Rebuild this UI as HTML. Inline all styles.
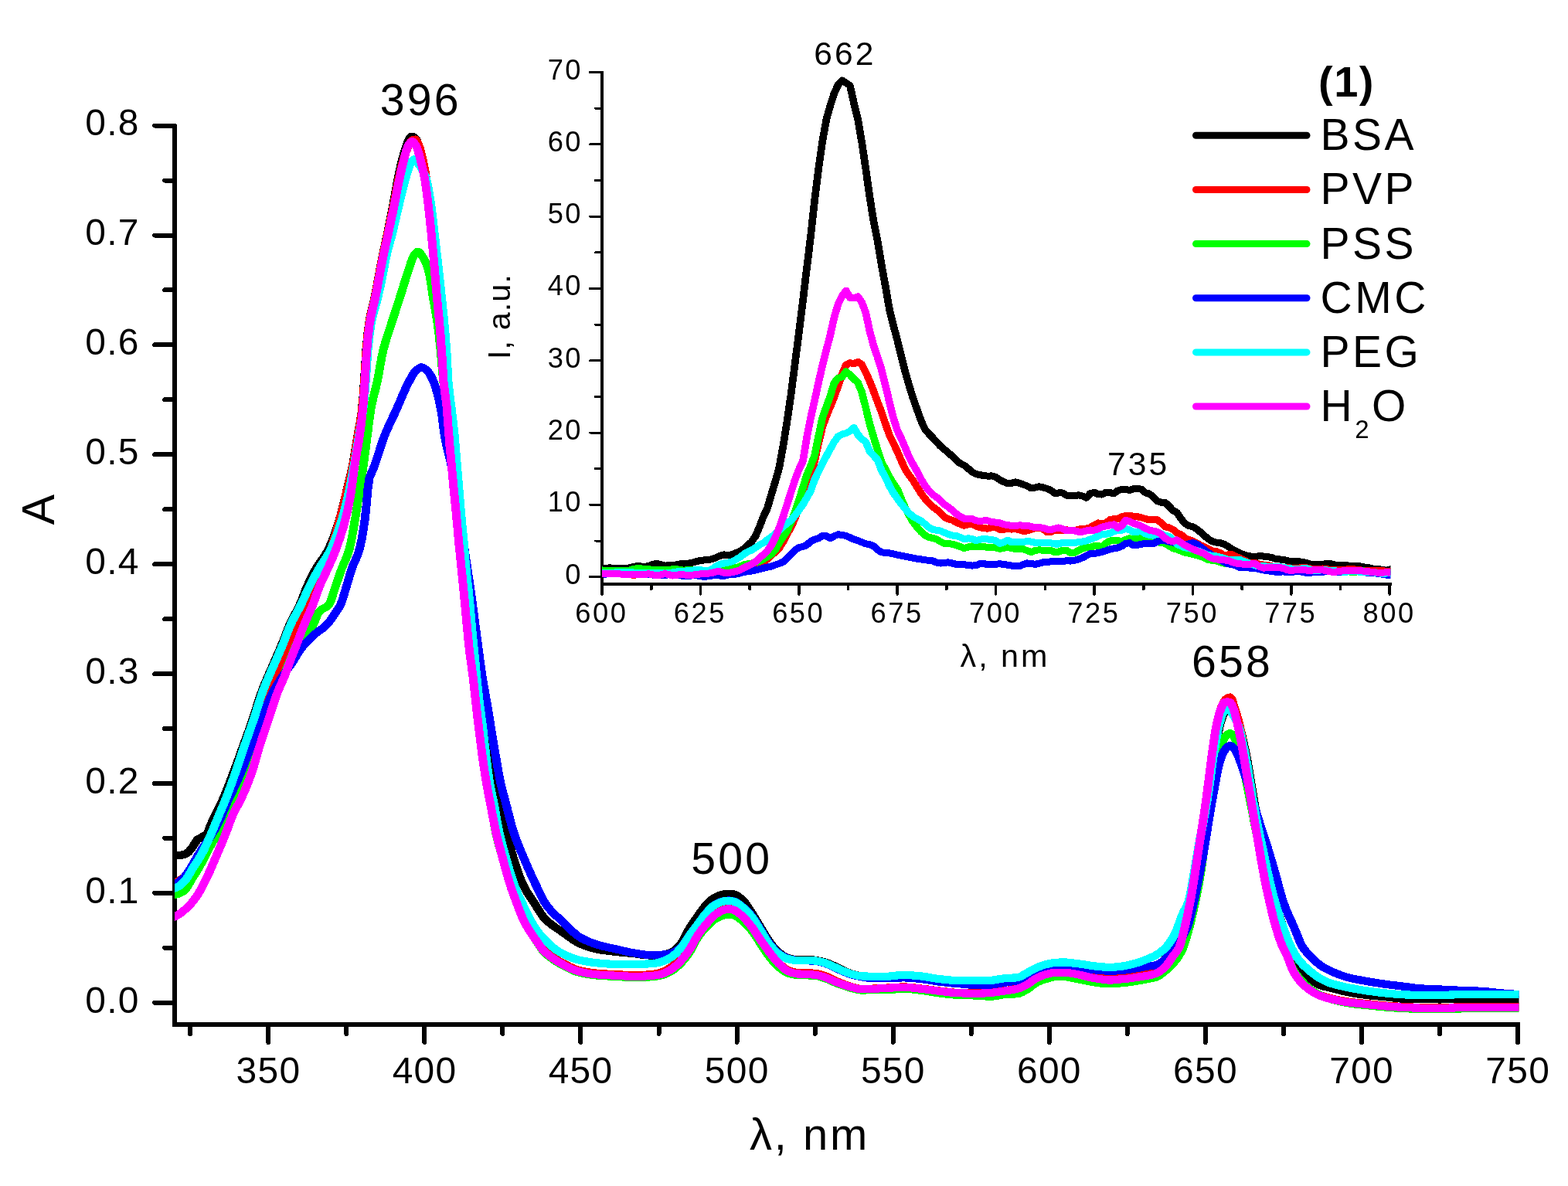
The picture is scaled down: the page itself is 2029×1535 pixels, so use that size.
<!DOCTYPE html>
<html lang="en"><head><meta charset="utf-8"><title>Absorption and fluorescence spectra</title>
<style>html,body{margin:0;padding:0;background:#fff}body{width:2029px;height:1535px;overflow:hidden}svg{display:block}text{font-family:'Liberation Sans', sans-serif;fill:#000}</style></head><body>
<svg width="2029" height="1535" viewBox="0 0 2029 1535" role="img" aria-label="Absorption spectra with fluorescence inset">
<rect x="0" y="0" width="2029" height="1535" fill="#ffffff"/>
<g id="main-axes" stroke="#000" fill="none" shape-rendering="crispEdges">
<path d="M226 160.5 V1329" stroke-width="6"/>
<path d="M223 1326 H1967" stroke-width="6"/>
<path d="M200.2 1297.8 H226 M200.2 1155.9 H226 M200.2 1014.0 H226 M200.2 872.1 H226 M200.2 730.2 H226 M200.2 588.3 H226 M200.2 446.4 H226 M200.2 304.5 H226 M200.2 162.6 H226 M213.2 1226.8 H226 M213.2 1084.9 H226 M213.2 943.0 H226 M213.2 801.1 H226 M213.2 659.2 H226 M213.2 517.3 H226 M213.2 375.4 H226 M213.2 233.5 H226" stroke-width="6" stroke-linecap="round"/>
<path d="M347.3 1326 V1349 M549.4 1326 V1349 M751.4 1326 V1349 M953.5 1326 V1349 M1155.6 1326 V1349 M1357.7 1326 V1349 M1559.8 1326 V1349 M1761.9 1326 V1349 M1964.0 1326 V1349 M246.2 1326 V1338 M448.3 1326 V1338 M650.4 1326 V1338 M852.5 1326 V1338 M1054.6 1326 V1338 M1256.7 1326 V1338 M1458.8 1326 V1338 M1660.9 1326 V1338 M1863.0 1326 V1338" stroke-width="6" stroke-linecap="round"/>
</g>
<g id="main-ticklabels" font-size="47.9" letter-spacing="1.3">
<text x="180.8" y="1310.5" text-anchor="end">0.0</text>
<text x="180.8" y="1168.6" text-anchor="end">0.1</text>
<text x="180.8" y="1026.7" text-anchor="end">0.2</text>
<text x="180.8" y="884.8" text-anchor="end">0.3</text>
<text x="180.8" y="742.9" text-anchor="end">0.4</text>
<text x="180.8" y="601.0" text-anchor="end">0.5</text>
<text x="180.8" y="459.1" text-anchor="end">0.6</text>
<text x="180.8" y="317.2" text-anchor="end">0.7</text>
<text x="180.8" y="175.3" text-anchor="end">0.8</text>
<text x="347.5" y="1402" text-anchor="middle">350</text>
<text x="549.6" y="1402" text-anchor="middle">400</text>
<text x="751.6" y="1402" text-anchor="middle">450</text>
<text x="953.7" y="1402" text-anchor="middle">500</text>
<text x="1155.8" y="1402" text-anchor="middle">550</text>
<text x="1357.9" y="1402" text-anchor="middle">600</text>
<text x="1560.0" y="1402" text-anchor="middle">650</text>
<text x="1762.1" y="1402" text-anchor="middle">700</text>
<text x="1964.2" y="1402" text-anchor="middle">750</text>
</g>
<text id="main-xtitle" x="1047.5" y="1488" font-size="58" letter-spacing="2.6" text-anchor="middle">λ, nm</text>
<text id="main-ytitle" transform="translate(70.3 659.5) rotate(-90)" font-size="59" text-anchor="middle">A</text>
<clipPath id="mclip"><rect x="226" y="100" width="1739.5" height="1260"/></clipPath>
<g id="main-curves" clip-path="url(#mclip)"><g fill="none" stroke-width="11" stroke-linejoin="round" stroke-linecap="butt" transform="scale(1 0.930)" shape-rendering="crispEdges">
<path stroke="#000000" d="M216.0 1190.9 L226.0 1190.9 L228.0 1190.8 L230.0 1190.7 L232.0 1190.4 L234.0 1190.1 L236.0 1189.7 L238.0 1189.3 L240.0 1188.4 L242.0 1187.1 L244.0 1185.6 L246.0 1183.3 L248.0 1180.5 L250.0 1177.6 L252.0 1174.0 L254.0 1170.5 L256.0 1168.2 L258.0 1166.8 L260.0 1165.7 L262.0 1164.5 L264.0 1163.4 L266.0 1162.1 L268.0 1160.3 L270.0 1156.0 L272.0 1149.8 L274.0 1144.6 L276.0 1139.8 L278.0 1135.2 L280.0 1130.8 L282.0 1126.7 L284.0 1122.5 L286.0 1118.2 L288.0 1113.6 L290.0 1108.6 L292.0 1103.4 L294.0 1098.0 L296.0 1092.5 L298.0 1086.9 L300.0 1081.2 L302.0 1075.6 L304.0 1069.9 L306.0 1064.1 L308.0 1058.3 L310.0 1052.3 L312.0 1046.4 L314.0 1040.4 L316.0 1034.5 L318.0 1028.5 L320.0 1022.5 L322.0 1016.5 L324.0 1010.4 L326.0 1004.2 L328.0 997.9 L330.0 991.2 L332.0 984.4 L334.0 977.5 L336.0 970.9 L338.0 964.7 L340.0 959.0 L342.0 953.6 L344.0 948.5 L346.0 943.4 L348.0 938.4 L350.0 933.5 L352.0 928.6 L354.0 923.7 L356.0 918.8 L358.0 913.8 L360.0 908.8 L362.0 903.8 L364.0 898.8 L366.0 893.6 L368.0 888.3 L370.0 882.7 L372.0 877.1 L374.0 871.7 L376.0 866.7 L378.0 862.3 L380.0 858.2 L382.0 854.3 L384.0 850.3 L386.0 846.2 L388.0 841.7 L390.0 836.6 L392.0 831.0 L394.0 825.3 L396.0 819.8 L398.0 814.8 L400.0 810.1 L402.0 805.6 L404.0 801.3 L406.0 797.1 L408.0 793.2 L410.0 789.4 L412.0 786.0 L414.0 782.9 L416.0 779.9 L418.0 776.9 L420.0 773.8 L422.0 770.4 L424.0 766.6 L426.0 762.3 L428.0 757.5 L430.0 752.3 L432.0 746.7 L434.0 740.7 L436.0 734.3 L438.0 727.6 L440.0 720.7 L442.0 712.9 L444.0 704.3 L446.0 695.2 L448.0 686.2 L450.0 677.4 L452.0 668.8 L454.0 659.8 L456.0 650.0 L458.0 638.6 L460.0 625.6 L462.0 612.0 L464.0 599.7 L466.0 588.3 L468.0 574.2 L470.0 551.9 L472.0 520.2 L474.0 485.5 L476.0 462.7 L478.0 447.3 L480.0 436.5 L482.0 427.5 L484.0 418.6 L486.0 408.0 L488.0 396.8 L490.0 385.4 L492.0 374.1 L494.0 362.8 L496.0 352.3 L498.0 342.3 L500.0 332.3 L502.0 322.0 L504.0 311.5 L506.0 300.8 L508.0 289.9 L510.0 278.4 L512.0 266.3 L514.0 254.4 L516.0 243.7 L518.0 233.6 L520.0 224.6 L522.0 216.7 L524.0 209.6 L526.0 203.3 L528.0 197.0 L530.0 192.5 L532.0 190.2 L534.0 190.0 L536.0 191.0 L538.0 193.1 L540.0 197.3 L542.0 204.2 L544.0 216.8 L546.0 228.0 L548.0 237.5 L550.0 248.4 L552.0 262.7 L554.0 279.5 L556.0 297.8 L558.0 318.2 L560.0 340.3 L562.0 364.0 L564.0 389.5 L566.0 414.5 L568.0 435.9 L570.0 459.0 L572.0 487.7 L574.0 524.7 L576.0 545.0 L578.0 560.2 L580.0 585.3 L582.0 614.5 L584.0 638.1 L586.0 661.5 L588.0 684.4 L590.0 706.5 L592.0 727.6 L594.0 747.5 L596.0 769.1 L598.0 790.9 L600.0 810.3 L602.0 829.0 L604.0 848.4 L606.0 867.2 L608.0 884.7 L610.0 901.3 L612.0 916.8 L614.0 931.5 L616.0 945.9 L618.0 960.0 L620.0 973.7 L622.0 987.0 L624.0 1000.0 L626.0 1011.8 L628.0 1022.0 L630.0 1031.1 L632.0 1040.2 L634.0 1050.0 L636.0 1061.4 L638.0 1073.7 L640.0 1085.4 L642.0 1095.5 L644.0 1104.8 L646.0 1113.8 L648.0 1122.8 L650.0 1131.9 L652.0 1140.9 L654.0 1149.8 L656.0 1158.7 L658.0 1167.7 L660.0 1176.8 L662.0 1185.4 L664.0 1193.2 L666.0 1200.1 L668.0 1206.7 L670.0 1212.9 L672.0 1218.8 L674.0 1224.2 L676.0 1229.2 L678.0 1233.7 L680.0 1237.7 L682.0 1241.5 L684.0 1244.9 L686.0 1248.2 L688.0 1251.4 L690.0 1254.6 L692.0 1257.8 L694.0 1261.2 L696.0 1264.7 L698.0 1268.2 L700.0 1271.5 L702.0 1274.6 L704.0 1277.3 L706.0 1279.5 L708.0 1281.6 L710.0 1283.5 L712.0 1285.3 L714.0 1286.9 L716.0 1288.5 L718.0 1290.1 L720.0 1291.6 L722.0 1293.0 L724.0 1294.5 L726.0 1295.9 L728.0 1297.4 L730.0 1298.9 L732.0 1300.5 L734.0 1302.1 L736.0 1303.7 L738.0 1305.2 L740.0 1306.7 L742.0 1308.2 L744.0 1309.5 L746.0 1310.8 L748.0 1312.0 L750.0 1313.1 L752.0 1314.0 L754.0 1314.9 L756.0 1315.7 L758.0 1316.5 L760.0 1317.3 L762.0 1318.0 L764.0 1318.7 L766.0 1319.3 L768.0 1319.9 L770.0 1320.5 L772.0 1321.0 L774.0 1321.4 L776.0 1321.8 L778.0 1322.1 L780.0 1322.4 L782.0 1322.7 L784.0 1323.0 L786.0 1323.3 L788.0 1323.5 L790.0 1323.8 L792.0 1324.0 L794.0 1324.2 L796.0 1324.5 L798.0 1324.7 L800.0 1324.9 L802.0 1325.2 L804.0 1325.4 L806.0 1325.6 L808.0 1325.8 L810.0 1326.0 L812.0 1326.2 L814.0 1326.4 L816.0 1326.6 L818.0 1326.8 L820.0 1327.1 L822.0 1327.3 L824.0 1327.6 L826.0 1328.0 L828.0 1328.3 L830.0 1328.7 L832.0 1329.0 L834.0 1329.2 L836.0 1329.3 L838.0 1329.4 L840.0 1329.5 L842.0 1329.6 L844.0 1329.7 L846.0 1329.7 L848.0 1329.6 L850.0 1329.5 L852.0 1329.4 L854.0 1329.2 L856.0 1329.0 L858.0 1328.7 L860.0 1328.4 L862.0 1327.9 L864.0 1327.3 L866.0 1326.5 L868.0 1325.7 L870.0 1324.7 L872.0 1323.4 L874.0 1321.7 L876.0 1319.7 L878.0 1317.4 L880.0 1315.0 L882.0 1312.3 L884.0 1308.9 L886.0 1304.9 L888.0 1300.6 L890.0 1296.3 L892.0 1292.3 L894.0 1288.8 L896.0 1285.6 L898.0 1282.5 L900.0 1279.5 L902.0 1276.5 L904.0 1273.4 L906.0 1270.3 L908.0 1267.3 L910.0 1264.4 L912.0 1261.7 L914.0 1259.3 L916.0 1257.1 L918.0 1255.0 L920.0 1253.0 L922.0 1251.2 L924.0 1249.7 L926.0 1248.6 L928.0 1247.5 L930.0 1246.6 L932.0 1245.8 L934.0 1245.1 L936.0 1244.6 L938.0 1244.3 L940.0 1244.1 L942.0 1243.9 L944.0 1243.8 L946.0 1243.9 L948.0 1244.2 L950.0 1244.6 L952.0 1245.5 L954.0 1246.7 L956.0 1248.1 L958.0 1249.8 L960.0 1251.6 L962.0 1253.6 L964.0 1256.1 L966.0 1259.1 L968.0 1262.3 L970.0 1265.7 L972.0 1269.1 L974.0 1272.4 L976.0 1275.9 L978.0 1279.5 L980.0 1283.1 L982.0 1286.8 L984.0 1290.3 L986.0 1293.9 L988.0 1297.5 L990.0 1301.1 L992.0 1304.7 L994.0 1308.0 L996.0 1311.1 L998.0 1313.9 L1000.0 1316.6 L1002.0 1319.2 L1004.0 1321.5 L1006.0 1323.7 L1008.0 1325.6 L1010.0 1327.2 L1012.0 1328.8 L1014.0 1330.3 L1016.0 1331.5 L1018.0 1332.6 L1020.0 1333.4 L1022.0 1334.0 L1024.0 1334.6 L1026.0 1335.1 L1028.0 1335.6 L1030.0 1335.8 L1032.0 1335.9 L1034.0 1335.9 L1036.0 1335.9 L1038.0 1335.9 L1040.0 1335.9 L1042.0 1335.9 L1044.0 1335.9 L1046.0 1335.9 L1048.0 1335.9 L1050.0 1335.9 L1052.0 1336.0 L1054.0 1336.2 L1056.0 1336.5 L1058.0 1336.9 L1060.0 1337.3 L1062.0 1337.8 L1064.0 1338.3 L1066.0 1338.8 L1068.0 1339.3 L1070.0 1340.0 L1072.0 1340.7 L1074.0 1341.6 L1076.0 1342.6 L1078.0 1343.6 L1080.0 1344.5 L1082.0 1345.6 L1084.0 1346.7 L1086.0 1347.8 L1088.0 1348.9 L1090.0 1350.0 L1092.0 1351.0 L1094.0 1351.9 L1096.0 1352.9 L1098.0 1353.8 L1100.0 1354.6 L1102.0 1355.4 L1104.0 1356.1 L1106.0 1356.6 L1108.0 1357.2 L1110.0 1357.7 L1112.0 1358.2 L1114.0 1358.7 L1116.0 1359.1 L1118.0 1359.7 L1120.0 1360.1 L1122.0 1360.3 L1124.0 1360.4 L1126.0 1360.4 L1128.0 1360.5 L1130.0 1360.5 L1132.0 1360.6 L1134.0 1360.6 L1136.0 1360.6 L1138.0 1360.6 L1140.0 1360.6 L1142.0 1360.6 L1144.0 1360.6 L1146.0 1360.6 L1148.0 1360.6 L1150.0 1360.4 L1152.0 1360.2 L1154.0 1360.0 L1156.0 1359.7 L1158.0 1359.5 L1160.0 1359.2 L1162.0 1359.0 L1164.0 1358.8 L1166.0 1358.6 L1168.0 1358.5 L1170.0 1358.5 L1172.0 1358.5 L1174.0 1358.6 L1176.0 1358.7 L1178.0 1358.9 L1180.0 1359.0 L1182.0 1359.2 L1184.0 1359.4 L1186.0 1359.6 L1188.0 1359.8 L1190.0 1360.0 L1192.0 1360.2 L1194.0 1360.5 L1196.0 1360.7 L1198.0 1361.0 L1200.0 1361.4 L1202.0 1361.7 L1204.0 1362.1 L1206.0 1362.5 L1208.0 1362.9 L1210.0 1363.2 L1212.0 1363.6 L1214.0 1363.9 L1216.0 1364.1 L1218.0 1364.4 L1220.0 1364.6 L1222.0 1364.8 L1224.0 1365.0 L1226.0 1365.2 L1228.0 1365.4 L1230.0 1365.6 L1232.0 1365.8 L1234.0 1365.9 L1236.0 1366.0 L1238.0 1366.1 L1240.0 1366.1 L1242.0 1366.1 L1244.0 1366.2 L1246.0 1366.2 L1248.0 1366.2 L1250.0 1366.2 L1252.0 1366.2 L1254.0 1366.2 L1256.0 1366.2 L1258.0 1366.2 L1260.0 1366.2 L1262.0 1366.2 L1264.0 1366.2 L1266.0 1366.2 L1268.0 1366.2 L1270.0 1366.2 L1272.0 1366.2 L1274.0 1366.1 L1276.0 1366.1 L1278.0 1366.0 L1280.0 1366.0 L1282.0 1365.9 L1284.0 1365.7 L1286.0 1365.5 L1288.0 1365.2 L1290.0 1364.8 L1292.0 1364.4 L1294.0 1364.0 L1296.0 1363.7 L1298.0 1363.4 L1300.0 1363.2 L1302.0 1363.0 L1304.0 1362.9 L1306.0 1362.8 L1308.0 1362.7 L1310.0 1362.6 L1312.0 1362.4 L1314.0 1362.3 L1316.0 1362.1 L1318.0 1361.7 L1320.0 1361.0 L1322.0 1359.9 L1324.0 1358.7 L1326.0 1357.3 L1328.0 1356.1 L1330.0 1354.9 L1332.0 1353.7 L1334.0 1352.5 L1336.0 1351.3 L1338.0 1350.1 L1340.0 1349.0 L1342.0 1348.1 L1344.0 1347.2 L1346.0 1346.3 L1348.0 1345.5 L1350.0 1344.8 L1352.0 1344.1 L1354.0 1343.6 L1356.0 1343.1 L1358.0 1342.6 L1360.0 1342.2 L1362.0 1341.8 L1364.0 1341.6 L1366.0 1341.4 L1368.0 1341.2 L1370.0 1341.0 L1372.0 1340.9 L1374.0 1340.8 L1376.0 1340.8 L1378.0 1340.8 L1380.0 1340.8 L1382.0 1341.0 L1384.0 1341.2 L1386.0 1341.5 L1388.0 1341.8 L1390.0 1342.4 L1392.0 1344.0 L1394.0 1346.6 L1396.0 1349.4 L1398.0 1352.1 L1400.0 1354.1 L1402.0 1355.1 L1404.0 1355.8 L1406.0 1356.4 L1408.0 1356.9 L1410.0 1357.3 L1412.0 1357.7 L1414.0 1358.1 L1416.0 1358.5 L1418.0 1358.8 L1420.0 1359.1 L1422.0 1359.4 L1424.0 1359.7 L1426.0 1360.0 L1428.0 1360.3 L1430.0 1360.6 L1432.0 1360.8 L1434.0 1361.0 L1436.0 1361.1 L1438.0 1361.0 L1440.0 1360.9 L1442.0 1360.8 L1444.0 1360.6 L1446.0 1360.3 L1448.0 1360.1 L1450.0 1360.0 L1452.0 1359.8 L1454.0 1359.6 L1456.0 1359.4 L1458.0 1359.2 L1460.0 1358.9 L1462.0 1358.7 L1464.0 1358.4 L1466.0 1358.0 L1468.0 1357.7 L1470.0 1357.3 L1472.0 1357.0 L1474.0 1356.7 L1476.0 1356.4 L1478.0 1356.1 L1480.0 1355.7 L1482.0 1355.4 L1484.0 1355.0 L1486.0 1354.6 L1488.0 1354.2 L1490.0 1353.8 L1492.0 1353.2 L1494.0 1352.6 L1496.0 1351.7 L1498.0 1350.2 L1500.0 1347.7 L1502.0 1344.7 L1504.0 1341.2 L1506.0 1337.4 L1508.0 1333.7 L1510.0 1330.1 L1512.0 1326.5 L1514.0 1322.7 L1516.0 1318.8 L1518.0 1314.9 L1520.0 1311.0 L1522.0 1307.5 L1524.0 1304.1 L1526.0 1300.4 L1528.0 1296.1 L1530.0 1290.9 L1532.0 1284.1 L1534.0 1275.7 L1536.0 1266.4 L1538.0 1256.7 L1540.0 1246.8 L1542.0 1236.0 L1544.0 1224.7 L1546.0 1213.3 L1548.0 1201.6 L1550.0 1189.7 L1552.0 1178.0 L1554.0 1166.8 L1556.0 1155.8 L1558.0 1144.6 L1560.0 1132.8 L1562.0 1120.6 L1564.0 1107.8 L1566.0 1093.6 L1568.0 1076.9 L1570.0 1060.8 L1572.0 1046.8 L1574.0 1034.0 L1576.0 1021.6 L1578.0 1011.0 L1580.0 1003.3 L1582.0 997.0 L1584.0 992.5 L1586.0 989.2 L1588.0 986.7 L1590.0 986.1 L1592.0 988.3 L1594.0 991.7 L1596.0 994.8 L1598.0 998.0 L1600.0 1001.7 L1602.0 1006.0 L1604.0 1011.2 L1606.0 1018.8 L1608.0 1028.1 L1610.0 1037.7 L1612.0 1047.9 L1614.0 1059.0 L1616.0 1071.2 L1618.0 1084.3 L1620.0 1097.5 L1622.0 1110.5 L1624.0 1123.4 L1626.0 1135.8 L1628.0 1147.1 L1630.0 1157.6 L1632.0 1167.8 L1634.0 1178.0 L1636.0 1188.3 L1638.0 1198.7 L1640.0 1208.8 L1642.0 1218.5 L1644.0 1228.0 L1646.0 1237.3 L1648.0 1246.1 L1650.0 1254.3 L1652.0 1262.0 L1654.0 1269.2 L1656.0 1276.2 L1658.0 1282.8 L1660.0 1289.2 L1662.0 1295.5 L1664.0 1301.5 L1666.0 1307.3 L1668.0 1312.8 L1670.0 1317.8 L1672.0 1322.3 L1674.0 1326.4 L1676.0 1330.5 L1678.0 1335.0 L1680.0 1339.6 L1682.0 1344.0 L1684.0 1348.0 L1686.0 1351.3 L1688.0 1354.0 L1690.0 1356.6 L1692.0 1358.8 L1694.0 1360.9 L1696.0 1362.8 L1698.0 1364.4 L1700.0 1366.0 L1702.0 1367.5 L1704.0 1368.9 L1706.0 1370.1 L1708.0 1371.1 L1710.0 1371.8 L1712.0 1372.4 L1714.0 1373.0 L1716.0 1373.4 L1718.0 1373.9 L1720.0 1374.4 L1722.0 1374.9 L1724.0 1375.4 L1726.0 1376.0 L1728.0 1376.6 L1730.0 1377.2 L1732.0 1377.7 L1734.0 1378.3 L1736.0 1378.9 L1738.0 1379.4 L1740.0 1379.9 L1742.0 1380.4 L1744.0 1380.8 L1746.0 1381.2 L1748.0 1381.6 L1750.0 1382.0 L1752.0 1382.4 L1754.0 1382.7 L1756.0 1383.1 L1758.0 1383.4 L1760.0 1383.7 L1762.0 1384.0 L1764.0 1384.3 L1766.0 1384.5 L1768.0 1384.8 L1770.0 1385.1 L1772.0 1385.3 L1774.0 1385.5 L1776.0 1385.7 L1778.0 1385.9 L1780.0 1386.1 L1782.0 1386.3 L1784.0 1386.5 L1786.0 1386.7 L1788.0 1386.9 L1790.0 1387.1 L1792.0 1387.3 L1794.0 1387.5 L1796.0 1387.8 L1798.0 1388.0 L1800.0 1388.3 L1802.0 1388.6 L1804.0 1388.8 L1806.0 1389.1 L1808.0 1389.3 L1810.0 1389.5 L1812.0 1389.7 L1814.0 1389.8 L1816.0 1389.9 L1818.0 1390.0 L1820.0 1390.1 L1822.0 1390.1 L1824.0 1390.2 L1826.0 1390.3 L1828.0 1390.3 L1830.0 1390.4 L1832.0 1390.4 L1834.0 1390.5 L1836.0 1390.5 L1838.0 1390.5 L1840.0 1390.5 L1842.0 1390.6 L1844.0 1390.6 L1846.0 1390.6 L1848.0 1390.7 L1850.0 1390.7 L1852.0 1390.7 L1854.0 1390.7 L1856.0 1390.7 L1858.0 1390.7 L1860.0 1390.7 L1862.0 1390.8 L1864.0 1390.8 L1866.0 1390.7 L1868.0 1390.7 L1870.0 1390.7 L1872.0 1390.7 L1874.0 1390.7 L1876.0 1390.6 L1878.0 1390.6 L1880.0 1390.6 L1882.0 1390.6 L1884.0 1390.5 L1886.0 1390.5 L1888.0 1390.5 L1890.0 1390.6 L1892.0 1390.6 L1894.0 1390.6 L1896.0 1390.6 L1898.0 1390.7 L1900.0 1390.7 L1902.0 1390.8 L1904.0 1390.8 L1906.0 1390.9 L1908.0 1391.0 L1910.0 1391.0 L1912.0 1391.1 L1914.0 1391.1 L1916.0 1391.1 L1918.0 1391.2 L1920.0 1391.2 L1922.0 1391.2 L1924.0 1391.2 L1926.0 1391.2 L1928.0 1391.2 L1930.0 1391.3 L1932.0 1391.3 L1934.0 1391.3 L1936.0 1391.3 L1938.0 1391.3 L1940.0 1391.3 L1942.0 1391.3 L1944.0 1391.3 L1946.0 1391.4 L1948.0 1391.4 L1950.0 1391.4 L1952.0 1391.4 L1954.0 1391.4 L1956.0 1391.4 L1958.0 1391.4 L1960.0 1391.4 L1962.0 1391.4 L1964.0 1391.4 L1965.0 1391.4 L1975.0 1391.4"/>
<path stroke="#ff0000" d="M216.0 1231.9 L226.0 1228.5 L228.0 1227.7 L230.0 1226.7 L232.0 1225.5 L234.0 1224.1 L236.0 1222.6 L238.0 1221.0 L240.0 1219.1 L242.0 1216.9 L244.0 1214.7 L246.0 1212.8 L248.0 1210.9 L250.0 1208.8 L252.0 1206.2 L254.0 1203.2 L256.0 1199.9 L258.0 1196.3 L260.0 1192.4 L262.0 1188.5 L264.0 1184.5 L266.0 1180.1 L268.0 1175.4 L270.0 1170.6 L272.0 1165.7 L274.0 1160.8 L276.0 1155.9 L278.0 1150.8 L280.0 1145.7 L282.0 1140.5 L284.0 1135.3 L286.0 1130.1 L288.0 1125.1 L290.0 1120.2 L292.0 1114.9 L294.0 1109.5 L296.0 1103.9 L298.0 1098.1 L300.0 1092.3 L302.0 1086.3 L304.0 1080.3 L306.0 1074.3 L308.0 1068.0 L310.0 1061.6 L312.0 1055.1 L314.0 1048.6 L316.0 1042.3 L318.0 1036.2 L320.0 1030.2 L322.0 1024.3 L324.0 1018.5 L326.0 1012.7 L328.0 1006.9 L330.0 1001.1 L332.0 995.0 L334.0 988.6 L336.0 982.1 L338.0 975.9 L340.0 970.1 L342.0 965.1 L344.0 961.0 L346.0 957.6 L348.0 954.6 L350.0 951.9 L352.0 949.1 L354.0 946.1 L356.0 942.5 L358.0 938.4 L360.0 933.8 L362.0 929.0 L364.0 924.1 L366.0 919.3 L368.0 914.5 L370.0 909.8 L372.0 905.0 L374.0 900.2 L376.0 895.2 L378.0 889.9 L380.0 884.2 L382.0 878.4 L384.0 872.6 L386.0 867.2 L388.0 862.2 L390.0 857.5 L392.0 852.9 L394.0 848.4 L396.0 843.9 L398.0 839.5 L400.0 835.3 L402.0 831.2 L404.0 827.1 L406.0 822.9 L408.0 818.5 L410.0 813.9 L412.0 809.0 L414.0 804.0 L416.0 798.8 L418.0 793.5 L420.0 788.2 L422.0 782.8 L424.0 777.3 L426.0 771.5 L428.0 765.4 L430.0 758.8 L432.0 751.8 L434.0 744.5 L436.0 736.9 L438.0 729.2 L440.0 721.3 L442.0 713.1 L444.0 704.6 L446.0 695.9 L448.0 687.1 L450.0 678.3 L452.0 669.6 L454.0 660.7 L456.0 651.0 L458.0 639.9 L460.0 626.9 L462.0 613.3 L464.0 600.8 L466.0 589.5 L468.0 575.9 L470.0 554.7 L472.0 523.9 L474.0 488.2 L476.0 464.7 L478.0 448.6 L480.0 437.4 L482.0 428.4 L484.0 419.5 L486.0 409.1 L488.0 398.0 L490.0 386.6 L492.0 375.2 L494.0 363.9 L496.0 353.4 L498.0 343.4 L500.0 333.6 L502.0 323.6 L504.0 313.4 L506.0 303.2 L508.0 292.9 L510.0 282.2 L512.0 271.0 L514.0 259.8 L516.0 249.4 L518.0 239.8 L520.0 230.8 L522.0 222.9 L524.0 215.8 L526.0 209.4 L528.0 204.3 L530.0 200.0 L532.0 196.5 L534.0 194.9 L536.0 194.3 L538.0 194.2 L540.0 197.3 L542.0 202.5 L544.0 208.7 L546.0 217.2 L548.0 226.9 L550.0 238.1 L552.0 252.4 L554.0 272.4 L556.0 294.3 L558.0 317.6 L560.0 340.6 L562.0 364.0 L564.0 389.5 L566.0 414.5 L568.0 435.9 L570.0 459.0 L572.0 487.7 L574.0 524.7 L576.0 545.0 L578.0 560.2 L580.0 585.3 L582.0 614.5 L584.0 638.1 L586.0 661.5 L588.0 684.4 L590.0 706.0 L592.0 728.4 L594.0 752.7 L596.0 774.1 L598.0 795.2 L600.0 816.8 L602.0 839.3 L604.0 862.7 L606.0 885.5 L608.0 906.2 L610.0 921.9 L612.0 937.0 L614.0 955.8 L616.0 975.6 L618.0 994.5 L620.0 1012.7 L622.0 1030.2 L624.0 1046.8 L626.0 1062.2 L628.0 1076.7 L630.0 1090.0 L632.0 1101.7 L634.0 1112.7 L636.0 1124.0 L638.0 1135.5 L640.0 1146.7 L642.0 1156.9 L644.0 1166.1 L646.0 1174.6 L648.0 1182.7 L650.0 1190.6 L652.0 1198.6 L654.0 1206.6 L656.0 1214.5 L658.0 1222.2 L660.0 1229.4 L662.0 1236.1 L664.0 1242.4 L666.0 1248.3 L668.0 1254.0 L670.0 1259.5 L672.0 1265.0 L674.0 1270.4 L676.0 1275.5 L678.0 1280.1 L680.0 1284.3 L682.0 1288.1 L684.0 1291.7 L686.0 1295.0 L688.0 1298.3 L690.0 1301.4 L692.0 1304.5 L694.0 1307.5 L696.0 1310.7 L698.0 1313.8 L700.0 1316.8 L702.0 1319.5 L704.0 1321.8 L706.0 1323.8 L708.0 1325.8 L710.0 1327.6 L712.0 1329.3 L714.0 1330.9 L716.0 1332.4 L718.0 1333.9 L720.0 1335.2 L722.0 1336.5 L724.0 1337.8 L726.0 1339.0 L728.0 1340.2 L730.0 1341.4 L732.0 1342.5 L734.0 1343.6 L736.0 1344.7 L738.0 1345.8 L740.0 1346.7 L742.0 1347.7 L744.0 1348.5 L746.0 1349.3 L748.0 1350.0 L750.0 1350.6 L752.0 1351.1 L754.0 1351.6 L756.0 1352.0 L758.0 1352.4 L760.0 1352.8 L762.0 1353.1 L764.0 1353.4 L766.0 1353.7 L768.0 1354.0 L770.0 1354.3 L772.0 1354.5 L774.0 1354.7 L776.0 1354.8 L778.0 1355.0 L780.0 1355.1 L782.0 1355.3 L784.0 1355.4 L786.0 1355.5 L788.0 1355.6 L790.0 1355.7 L792.0 1355.8 L794.0 1355.9 L796.0 1356.0 L798.0 1356.1 L800.0 1356.2 L802.0 1356.3 L804.0 1356.5 L806.0 1356.6 L808.0 1356.7 L810.0 1356.9 L812.0 1357.0 L814.0 1357.1 L816.0 1357.2 L818.0 1357.3 L820.0 1357.3 L822.0 1357.3 L824.0 1357.3 L826.0 1357.2 L828.0 1357.2 L830.0 1357.1 L832.0 1356.9 L834.0 1356.8 L836.0 1356.6 L838.0 1356.4 L840.0 1356.2 L842.0 1356.0 L844.0 1355.8 L846.0 1355.5 L848.0 1355.2 L850.0 1354.8 L852.0 1354.3 L854.0 1353.6 L856.0 1353.0 L858.0 1352.2 L860.0 1351.3 L862.0 1350.3 L864.0 1349.0 L866.0 1347.7 L868.0 1346.2 L870.0 1344.7 L872.0 1343.1 L874.0 1341.3 L876.0 1339.4 L878.0 1337.3 L880.0 1335.1 L882.0 1332.8 L884.0 1330.3 L886.0 1327.7 L888.0 1324.8 L890.0 1321.9 L892.0 1318.7 L894.0 1315.5 L896.0 1311.7 L898.0 1307.8 L900.0 1304.0 L902.0 1300.5 L904.0 1297.4 L906.0 1294.4 L908.0 1291.6 L910.0 1288.9 L912.0 1286.3 L914.0 1283.8 L916.0 1281.4 L918.0 1278.9 L920.0 1276.6 L922.0 1274.5 L924.0 1272.6 L926.0 1271.2 L928.0 1269.9 L930.0 1268.7 L932.0 1267.6 L934.0 1266.7 L936.0 1266.0 L938.0 1265.4 L940.0 1264.9 L942.0 1264.6 L944.0 1264.6 L946.0 1264.9 L948.0 1265.5 L950.0 1266.1 L952.0 1267.2 L954.0 1268.6 L956.0 1270.3 L958.0 1272.2 L960.0 1274.1 L962.0 1276.0 L964.0 1278.2 L966.0 1280.6 L968.0 1283.2 L970.0 1285.8 L972.0 1288.6 L974.0 1291.4 L976.0 1294.4 L978.0 1297.6 L980.0 1300.8 L982.0 1304.1 L984.0 1307.2 L986.0 1310.3 L988.0 1313.4 L990.0 1316.5 L992.0 1319.5 L994.0 1322.5 L996.0 1325.3 L998.0 1328.1 L1000.0 1330.8 L1002.0 1333.5 L1004.0 1336.0 L1006.0 1338.4 L1008.0 1340.6 L1010.0 1342.6 L1012.0 1344.5 L1014.0 1346.4 L1016.0 1348.1 L1018.0 1349.5 L1020.0 1350.5 L1022.0 1351.3 L1024.0 1351.9 L1026.0 1352.5 L1028.0 1353.0 L1030.0 1353.4 L1032.0 1353.6 L1034.0 1353.7 L1036.0 1353.7 L1038.0 1353.8 L1040.0 1353.8 L1042.0 1353.9 L1044.0 1354.0 L1046.0 1354.1 L1048.0 1354.2 L1050.0 1354.3 L1052.0 1354.5 L1054.0 1354.7 L1056.0 1354.9 L1058.0 1355.2 L1060.0 1355.7 L1062.0 1356.3 L1064.0 1356.9 L1066.0 1357.6 L1068.0 1358.3 L1070.0 1359.1 L1072.0 1360.1 L1074.0 1361.2 L1076.0 1362.3 L1078.0 1363.3 L1080.0 1364.3 L1082.0 1365.3 L1084.0 1366.2 L1086.0 1367.1 L1088.0 1368.0 L1090.0 1368.9 L1092.0 1369.7 L1094.0 1370.5 L1096.0 1371.3 L1098.0 1372.0 L1100.0 1372.7 L1102.0 1373.3 L1104.0 1373.9 L1106.0 1374.5 L1108.0 1375.1 L1110.0 1375.7 L1112.0 1376.1 L1114.0 1376.3 L1116.0 1376.3 L1118.0 1376.3 L1120.0 1376.3 L1122.0 1376.2 L1124.0 1376.2 L1126.0 1376.1 L1128.0 1376.0 L1130.0 1375.9 L1132.0 1375.8 L1134.0 1375.7 L1136.0 1375.5 L1138.0 1375.4 L1140.0 1375.3 L1142.0 1375.2 L1144.0 1375.0 L1146.0 1374.9 L1148.0 1374.8 L1150.0 1374.7 L1152.0 1374.5 L1154.0 1374.4 L1156.0 1374.2 L1158.0 1374.1 L1160.0 1374.0 L1162.0 1373.9 L1164.0 1373.8 L1166.0 1373.7 L1168.0 1373.7 L1170.0 1373.7 L1172.0 1373.7 L1174.0 1373.8 L1176.0 1374.0 L1178.0 1374.1 L1180.0 1374.3 L1182.0 1374.6 L1184.0 1374.8 L1186.0 1375.1 L1188.0 1375.3 L1190.0 1375.6 L1192.0 1375.8 L1194.0 1376.1 L1196.0 1376.3 L1198.0 1376.6 L1200.0 1376.8 L1202.0 1377.1 L1204.0 1377.4 L1206.0 1377.7 L1208.0 1378.0 L1210.0 1378.3 L1212.0 1378.6 L1214.0 1378.8 L1216.0 1379.1 L1218.0 1379.3 L1220.0 1379.6 L1222.0 1379.8 L1224.0 1380.1 L1226.0 1380.3 L1228.0 1380.6 L1230.0 1380.8 L1232.0 1381.0 L1234.0 1381.2 L1236.0 1381.4 L1238.0 1381.5 L1240.0 1381.6 L1242.0 1381.7 L1244.0 1381.8 L1246.0 1381.9 L1248.0 1381.9 L1250.0 1382.0 L1252.0 1382.1 L1254.0 1382.1 L1256.0 1382.2 L1258.0 1382.2 L1260.0 1382.2 L1262.0 1382.3 L1264.0 1382.3 L1266.0 1382.2 L1268.0 1382.2 L1270.0 1382.1 L1272.0 1382.0 L1274.0 1381.9 L1276.0 1381.7 L1278.0 1381.6 L1280.0 1381.4 L1282.0 1381.2 L1284.0 1381.1 L1286.0 1380.8 L1288.0 1380.6 L1290.0 1380.3 L1292.0 1380.0 L1294.0 1379.7 L1296.0 1379.3 L1298.0 1379.0 L1300.0 1378.7 L1302.0 1378.4 L1304.0 1378.1 L1306.0 1377.8 L1308.0 1377.5 L1310.0 1377.1 L1312.0 1376.8 L1314.0 1376.3 L1316.0 1375.9 L1318.0 1375.3 L1320.0 1374.5 L1322.0 1373.6 L1324.0 1372.6 L1326.0 1371.5 L1328.0 1370.4 L1330.0 1369.2 L1332.0 1367.8 L1334.0 1366.3 L1336.0 1364.7 L1338.0 1363.2 L1340.0 1361.8 L1342.0 1360.6 L1344.0 1359.6 L1346.0 1358.6 L1348.0 1357.8 L1350.0 1356.9 L1352.0 1356.2 L1354.0 1355.6 L1356.0 1355.0 L1358.0 1354.5 L1360.0 1354.0 L1362.0 1353.5 L1364.0 1353.3 L1366.0 1353.2 L1368.0 1353.2 L1370.0 1353.2 L1372.0 1353.2 L1374.0 1353.2 L1376.0 1353.2 L1378.0 1353.2 L1380.0 1353.4 L1382.0 1353.7 L1384.0 1354.1 L1386.0 1354.4 L1388.0 1354.7 L1390.0 1354.8 L1392.0 1354.8 L1394.0 1354.8 L1396.0 1354.8 L1398.0 1354.9 L1400.0 1354.9 L1402.0 1355.0 L1404.0 1355.4 L1406.0 1356.0 L1408.0 1356.6 L1410.0 1357.3 L1412.0 1357.9 L1414.0 1358.3 L1416.0 1358.7 L1418.0 1359.0 L1420.0 1359.3 L1422.0 1359.6 L1424.0 1359.9 L1426.0 1360.2 L1428.0 1360.5 L1430.0 1360.8 L1432.0 1361.0 L1434.0 1361.2 L1436.0 1361.3 L1438.0 1361.3 L1440.0 1361.2 L1442.0 1361.0 L1444.0 1360.8 L1446.0 1360.6 L1448.0 1360.4 L1450.0 1360.2 L1452.0 1360.0 L1454.0 1359.8 L1456.0 1359.6 L1458.0 1359.4 L1460.0 1359.2 L1462.0 1358.9 L1464.0 1358.6 L1466.0 1358.2 L1468.0 1357.9 L1470.0 1357.5 L1472.0 1357.2 L1474.0 1356.9 L1476.0 1356.6 L1478.0 1356.3 L1480.0 1356.0 L1482.0 1355.6 L1484.0 1355.2 L1486.0 1354.8 L1488.0 1354.4 L1490.0 1353.9 L1492.0 1353.4 L1494.0 1352.7 L1496.0 1352.0 L1498.0 1351.0 L1500.0 1349.7 L1502.0 1348.1 L1504.0 1346.4 L1506.0 1344.5 L1508.0 1342.6 L1510.0 1340.5 L1512.0 1338.0 L1514.0 1335.4 L1516.0 1332.6 L1518.0 1329.9 L1520.0 1327.3 L1522.0 1324.6 L1524.0 1321.4 L1526.0 1317.4 L1528.0 1311.0 L1530.0 1302.6 L1532.0 1293.7 L1534.0 1285.0 L1536.0 1276.0 L1538.0 1266.4 L1540.0 1255.9 L1542.0 1244.2 L1544.0 1231.1 L1546.0 1217.5 L1548.0 1203.6 L1550.0 1189.3 L1552.0 1175.2 L1554.0 1161.6 L1556.0 1147.9 L1558.0 1133.6 L1560.0 1118.5 L1562.0 1102.8 L1564.0 1086.3 L1566.0 1069.1 L1568.0 1052.5 L1570.0 1036.7 L1572.0 1022.2 L1574.0 1009.8 L1576.0 1000.3 L1578.0 992.2 L1580.0 985.7 L1582.0 980.7 L1584.0 976.4 L1586.0 973.5 L1588.0 972.1 L1590.0 971.0 L1592.0 970.5 L1594.0 972.6 L1596.0 979.9 L1598.0 987.0 L1600.0 993.5 L1602.0 1000.6 L1604.0 1008.9 L1606.0 1019.7 L1608.0 1032.6 L1610.0 1046.3 L1612.0 1060.8 L1614.0 1075.2 L1616.0 1089.7 L1618.0 1103.6 L1620.0 1117.1 L1622.0 1130.3 L1624.0 1143.2 L1626.0 1156.0 L1628.0 1168.6 L1630.0 1181.1 L1632.0 1193.7 L1634.0 1206.2 L1636.0 1217.8 L1638.0 1228.7 L1640.0 1239.2 L1642.0 1249.1 L1644.0 1258.5 L1646.0 1267.7 L1648.0 1276.5 L1650.0 1284.8 L1652.0 1292.4 L1654.0 1299.3 L1656.0 1305.7 L1658.0 1311.7 L1660.0 1317.1 L1662.0 1321.7 L1664.0 1325.8 L1666.0 1330.1 L1668.0 1335.4 L1670.0 1341.5 L1672.0 1347.3 L1674.0 1351.9 L1676.0 1355.5 L1678.0 1358.7 L1680.0 1361.7 L1682.0 1364.3 L1684.0 1366.7 L1686.0 1368.9 L1688.0 1371.0 L1690.0 1372.9 L1692.0 1374.6 L1694.0 1376.2 L1696.0 1377.7 L1698.0 1379.1 L1700.0 1380.4 L1702.0 1381.6 L1704.0 1382.8 L1706.0 1383.9 L1708.0 1384.8 L1710.0 1385.6 L1712.0 1386.4 L1714.0 1387.0 L1716.0 1387.7 L1718.0 1388.2 L1720.0 1388.8 L1722.0 1389.3 L1724.0 1389.8 L1726.0 1390.3 L1728.0 1390.8 L1730.0 1391.3 L1732.0 1391.7 L1734.0 1392.1 L1736.0 1392.6 L1738.0 1392.9 L1740.0 1393.3 L1742.0 1393.7 L1744.0 1394.0 L1746.0 1394.3 L1748.0 1394.6 L1750.0 1394.8 L1752.0 1395.1 L1754.0 1395.3 L1756.0 1395.5 L1758.0 1395.8 L1760.0 1396.0 L1762.0 1396.2 L1764.0 1396.4 L1766.0 1396.6 L1768.0 1396.8 L1770.0 1397.1 L1772.0 1397.3 L1774.0 1397.5 L1776.0 1397.8 L1778.0 1398.0 L1780.0 1398.2 L1782.0 1398.5 L1784.0 1398.7 L1786.0 1398.9 L1788.0 1399.1 L1790.0 1399.3 L1792.0 1399.5 L1794.0 1399.6 L1796.0 1399.8 L1798.0 1400.0 L1800.0 1400.1 L1802.0 1400.2 L1804.0 1400.4 L1806.0 1400.5 L1808.0 1400.6 L1810.0 1400.8 L1812.0 1400.9 L1814.0 1401.0 L1816.0 1401.1 L1818.0 1401.2 L1820.0 1401.3 L1822.0 1401.4 L1824.0 1401.5 L1826.0 1401.6 L1828.0 1401.7 L1830.0 1401.8 L1832.0 1401.9 L1834.0 1401.9 L1836.0 1402.0 L1838.0 1402.0 L1840.0 1402.1 L1842.0 1402.1 L1844.0 1402.1 L1846.0 1402.1 L1848.0 1402.2 L1850.0 1402.2 L1852.0 1402.2 L1854.0 1402.2 L1856.0 1402.2 L1858.0 1402.2 L1860.0 1402.3 L1862.0 1402.3 L1864.0 1402.3 L1866.0 1402.2 L1868.0 1402.2 L1870.0 1402.1 L1872.0 1402.1 L1874.0 1402.0 L1876.0 1401.9 L1878.0 1401.9 L1880.0 1401.8 L1882.0 1401.7 L1884.0 1401.7 L1886.0 1401.6 L1888.0 1401.6 L1890.0 1401.6 L1892.0 1401.5 L1894.0 1401.5 L1896.0 1401.4 L1898.0 1401.4 L1900.0 1401.4 L1902.0 1401.3 L1904.0 1401.3 L1906.0 1401.3 L1908.0 1401.3 L1910.0 1401.2 L1912.0 1401.2 L1914.0 1401.2 L1916.0 1401.2 L1918.0 1401.2 L1920.0 1401.2 L1922.0 1401.2 L1924.0 1401.2 L1926.0 1401.2 L1928.0 1401.2 L1930.0 1401.2 L1932.0 1401.2 L1934.0 1401.2 L1936.0 1401.2 L1938.0 1401.2 L1940.0 1401.2 L1942.0 1401.2 L1944.0 1401.2 L1946.0 1401.2 L1948.0 1401.2 L1950.0 1401.2 L1952.0 1401.2 L1954.0 1401.2 L1956.0 1401.2 L1958.0 1401.2 L1960.0 1401.2 L1962.0 1401.2 L1964.0 1401.2 L1965.0 1401.2 L1975.0 1401.2"/>
<path stroke="#00ff00" d="M216.0 1244.8 L226.0 1244.8 L228.0 1244.7 L230.0 1244.2 L232.0 1243.4 L234.0 1242.4 L236.0 1241.3 L238.0 1240.0 L240.0 1238.0 L242.0 1235.0 L244.0 1231.4 L246.0 1227.5 L248.0 1223.6 L250.0 1220.1 L252.0 1216.8 L254.0 1213.5 L256.0 1210.1 L258.0 1206.5 L260.0 1202.6 L262.0 1198.4 L264.0 1194.2 L266.0 1190.1 L268.0 1186.0 L270.0 1181.9 L272.0 1177.8 L274.0 1173.9 L276.0 1170.3 L278.0 1166.9 L280.0 1163.6 L282.0 1160.5 L284.0 1157.4 L286.0 1154.2 L288.0 1150.8 L290.0 1147.3 L292.0 1143.5 L294.0 1139.6 L296.0 1135.6 L298.0 1131.4 L300.0 1127.1 L302.0 1122.8 L304.0 1118.4 L306.0 1113.9 L308.0 1109.4 L310.0 1104.8 L312.0 1100.2 L314.0 1095.4 L316.0 1090.5 L318.0 1085.4 L320.0 1080.1 L322.0 1074.5 L324.0 1068.4 L326.0 1062.0 L328.0 1055.4 L330.0 1048.8 L332.0 1042.4 L334.0 1036.2 L336.0 1030.2 L338.0 1024.2 L340.0 1018.4 L342.0 1012.5 L344.0 1006.5 L346.0 1000.5 L348.0 994.1 L350.0 987.6 L352.0 981.1 L354.0 974.6 L356.0 968.5 L358.0 962.9 L360.0 957.9 L362.0 953.4 L364.0 948.9 L366.0 944.2 L368.0 939.0 L370.0 933.4 L372.0 927.7 L374.0 922.1 L376.0 916.8 L378.0 911.3 L380.0 905.8 L382.0 900.6 L384.0 896.1 L386.0 892.6 L388.0 890.1 L390.0 888.1 L392.0 886.4 L394.0 884.8 L396.0 883.1 L398.0 881.1 L400.0 878.5 L402.0 875.4 L404.0 871.8 L406.0 867.8 L408.0 863.0 L410.0 857.3 L412.0 852.5 L414.0 850.0 L416.0 848.3 L418.0 847.1 L420.0 846.1 L422.0 844.9 L424.0 843.4 L426.0 841.0 L428.0 836.5 L430.0 830.2 L432.0 823.2 L434.0 816.5 L436.0 810.4 L438.0 804.2 L440.0 798.0 L442.0 792.0 L444.0 786.6 L446.0 781.7 L448.0 776.8 L450.0 771.4 L452.0 764.6 L454.0 755.5 L456.0 744.2 L458.0 731.8 L460.0 719.3 L462.0 706.1 L464.0 692.1 L466.0 678.1 L468.0 664.0 L470.0 649.3 L472.0 633.6 L474.0 617.1 L476.0 600.5 L478.0 583.1 L480.0 568.7 L482.0 558.1 L484.0 549.3 L486.0 541.0 L488.0 532.0 L490.0 521.0 L492.0 508.4 L494.0 496.4 L496.0 486.9 L498.0 479.0 L500.0 471.8 L502.0 465.2 L504.0 458.7 L506.0 452.0 L508.0 445.2 L510.0 438.6 L512.0 432.0 L514.0 425.5 L516.0 418.9 L518.0 412.1 L520.0 405.2 L522.0 398.2 L524.0 391.3 L526.0 384.5 L528.0 377.9 L530.0 371.4 L532.0 364.8 L534.0 359.0 L536.0 355.1 L538.0 352.2 L540.0 350.4 L542.0 350.7 L544.0 353.0 L546.0 355.9 L548.0 359.1 L550.0 363.1 L552.0 368.1 L554.0 374.3 L556.0 383.1 L558.0 396.6 L560.0 411.2 L562.0 423.7 L564.0 435.6 L566.0 448.9 L568.0 465.4 L570.0 485.4 L572.0 510.3 L574.0 533.5 L576.0 548.3 L578.0 563.3 L580.0 587.3 L582.0 614.3 L584.0 638.0 L586.0 661.5 L588.0 684.4 L590.0 706.0 L592.0 728.4 L594.0 752.7 L596.0 774.1 L598.0 795.2 L600.0 816.8 L602.0 839.3 L604.0 862.7 L606.0 885.5 L608.0 906.2 L610.0 921.9 L612.0 937.0 L614.0 955.8 L616.0 975.6 L618.0 994.5 L620.0 1012.7 L622.0 1030.2 L624.0 1046.8 L626.0 1062.2 L628.0 1076.7 L630.0 1089.9 L632.0 1101.5 L634.0 1112.5 L636.0 1124.4 L638.0 1137.4 L640.0 1149.9 L642.0 1160.3 L644.0 1169.3 L646.0 1177.4 L648.0 1185.1 L650.0 1192.7 L652.0 1200.4 L654.0 1208.1 L656.0 1215.5 L658.0 1222.7 L660.0 1229.6 L662.0 1235.9 L664.0 1241.8 L666.0 1247.4 L668.0 1252.8 L670.0 1258.2 L672.0 1263.7 L674.0 1269.3 L676.0 1274.7 L678.0 1279.8 L680.0 1284.4 L682.0 1288.5 L684.0 1292.4 L686.0 1296.0 L688.0 1299.4 L690.0 1302.8 L692.0 1306.0 L694.0 1309.3 L696.0 1312.6 L698.0 1316.1 L700.0 1319.4 L702.0 1322.3 L704.0 1324.7 L706.0 1326.8 L708.0 1328.8 L710.0 1330.6 L712.0 1332.3 L714.0 1333.9 L716.0 1335.5 L718.0 1336.9 L720.0 1338.3 L722.0 1339.6 L724.0 1340.8 L726.0 1342.0 L728.0 1343.2 L730.0 1344.4 L732.0 1345.5 L734.0 1346.6 L736.0 1347.7 L738.0 1348.8 L740.0 1349.8 L742.0 1350.7 L744.0 1351.6 L746.0 1352.3 L748.0 1353.0 L750.0 1353.6 L752.0 1354.1 L754.0 1354.6 L756.0 1355.0 L758.0 1355.4 L760.0 1355.8 L762.0 1356.1 L764.0 1356.5 L766.0 1356.8 L768.0 1357.0 L770.0 1357.3 L772.0 1357.5 L774.0 1357.7 L776.0 1357.9 L778.0 1358.0 L780.0 1358.2 L782.0 1358.3 L784.0 1358.4 L786.0 1358.5 L788.0 1358.6 L790.0 1358.7 L792.0 1358.8 L794.0 1358.9 L796.0 1359.0 L798.0 1359.1 L800.0 1359.2 L802.0 1359.4 L804.0 1359.5 L806.0 1359.6 L808.0 1359.8 L810.0 1359.9 L812.0 1360.0 L814.0 1360.1 L816.0 1360.2 L818.0 1360.3 L820.0 1360.3 L822.0 1360.3 L824.0 1360.3 L826.0 1360.3 L828.0 1360.2 L830.0 1360.2 L832.0 1360.1 L834.0 1360.0 L836.0 1359.8 L838.0 1359.7 L840.0 1359.6 L842.0 1359.4 L844.0 1359.3 L846.0 1359.1 L848.0 1358.9 L850.0 1358.6 L852.0 1358.2 L854.0 1357.8 L856.0 1357.4 L858.0 1356.8 L860.0 1356.1 L862.0 1355.3 L864.0 1354.2 L866.0 1353.1 L868.0 1351.9 L870.0 1350.6 L872.0 1349.1 L874.0 1347.5 L876.0 1345.6 L878.0 1343.6 L880.0 1341.5 L882.0 1339.3 L884.0 1337.0 L886.0 1334.4 L888.0 1331.7 L890.0 1328.7 L892.0 1325.6 L894.0 1322.3 L896.0 1318.2 L898.0 1313.9 L900.0 1309.7 L902.0 1306.1 L904.0 1303.0 L906.0 1300.1 L908.0 1297.3 L910.0 1294.7 L912.0 1292.3 L914.0 1290.0 L916.0 1287.8 L918.0 1285.6 L920.0 1283.5 L922.0 1281.7 L924.0 1280.1 L926.0 1278.7 L928.0 1277.5 L930.0 1276.4 L932.0 1275.4 L934.0 1274.6 L936.0 1273.9 L938.0 1273.5 L940.0 1273.2 L942.0 1273.0 L944.0 1273.0 L946.0 1273.2 L948.0 1273.5 L950.0 1273.9 L952.0 1274.7 L954.0 1275.9 L956.0 1277.4 L958.0 1279.1 L960.0 1280.9 L962.0 1282.6 L964.0 1284.5 L966.0 1286.7 L968.0 1289.0 L970.0 1291.5 L972.0 1294.1 L974.0 1296.8 L976.0 1299.8 L978.0 1303.0 L980.0 1306.4 L982.0 1309.7 L984.0 1313.0 L986.0 1316.2 L988.0 1319.5 L990.0 1322.9 L992.0 1326.1 L994.0 1329.2 L996.0 1332.1 L998.0 1334.8 L1000.0 1337.3 L1002.0 1339.7 L1004.0 1342.0 L1006.0 1344.1 L1008.0 1346.0 L1010.0 1347.7 L1012.0 1349.4 L1014.0 1351.0 L1016.0 1352.4 L1018.0 1353.5 L1020.0 1354.4 L1022.0 1355.0 L1024.0 1355.6 L1026.0 1356.1 L1028.0 1356.5 L1030.0 1356.8 L1032.0 1357.0 L1034.0 1357.1 L1036.0 1357.1 L1038.0 1357.2 L1040.0 1357.2 L1042.0 1357.3 L1044.0 1357.3 L1046.0 1357.4 L1048.0 1357.5 L1050.0 1357.6 L1052.0 1357.7 L1054.0 1357.9 L1056.0 1358.1 L1058.0 1358.4 L1060.0 1358.9 L1062.0 1359.5 L1064.0 1360.2 L1066.0 1360.9 L1068.0 1361.6 L1070.0 1362.4 L1072.0 1363.3 L1074.0 1364.3 L1076.0 1365.3 L1078.0 1366.2 L1080.0 1367.1 L1082.0 1367.9 L1084.0 1368.8 L1086.0 1369.6 L1088.0 1370.4 L1090.0 1371.2 L1092.0 1371.9 L1094.0 1372.6 L1096.0 1373.3 L1098.0 1374.0 L1100.0 1374.6 L1102.0 1375.1 L1104.0 1375.7 L1106.0 1376.3 L1108.0 1376.8 L1110.0 1377.3 L1112.0 1377.7 L1114.0 1377.9 L1116.0 1377.9 L1118.0 1377.9 L1120.0 1377.9 L1122.0 1377.8 L1124.0 1377.8 L1126.0 1377.8 L1128.0 1377.8 L1130.0 1377.8 L1132.0 1377.8 L1134.0 1377.8 L1136.0 1377.8 L1138.0 1377.8 L1140.0 1377.8 L1142.0 1377.8 L1144.0 1377.8 L1146.0 1377.8 L1148.0 1377.8 L1150.0 1377.7 L1152.0 1377.5 L1154.0 1377.3 L1156.0 1377.0 L1158.0 1376.8 L1160.0 1376.6 L1162.0 1376.3 L1164.0 1376.1 L1166.0 1376.0 L1168.0 1375.9 L1170.0 1375.9 L1172.0 1376.0 L1174.0 1376.1 L1176.0 1376.3 L1178.0 1376.5 L1180.0 1376.7 L1182.0 1377.0 L1184.0 1377.2 L1186.0 1377.5 L1188.0 1377.8 L1190.0 1378.1 L1192.0 1378.4 L1194.0 1378.7 L1196.0 1378.9 L1198.0 1379.3 L1200.0 1379.6 L1202.0 1379.9 L1204.0 1380.3 L1206.0 1380.6 L1208.0 1381.0 L1210.0 1381.3 L1212.0 1381.6 L1214.0 1381.9 L1216.0 1382.2 L1218.0 1382.5 L1220.0 1382.7 L1222.0 1383.0 L1224.0 1383.3 L1226.0 1383.5 L1228.0 1383.8 L1230.0 1384.0 L1232.0 1384.2 L1234.0 1384.4 L1236.0 1384.6 L1238.0 1384.7 L1240.0 1384.8 L1242.0 1384.9 L1244.0 1385.0 L1246.0 1385.0 L1248.0 1385.1 L1250.0 1385.1 L1252.0 1385.2 L1254.0 1385.2 L1256.0 1385.3 L1258.0 1385.3 L1260.0 1385.4 L1262.0 1385.4 L1264.0 1385.5 L1266.0 1385.6 L1268.0 1385.8 L1270.0 1386.0 L1272.0 1386.2 L1274.0 1386.3 L1276.0 1386.5 L1278.0 1386.7 L1280.0 1386.8 L1282.0 1386.8 L1284.0 1386.7 L1286.0 1386.4 L1288.0 1386.1 L1290.0 1385.8 L1292.0 1385.4 L1294.0 1385.0 L1296.0 1384.6 L1298.0 1384.3 L1300.0 1384.1 L1302.0 1384.0 L1304.0 1383.8 L1306.0 1383.7 L1308.0 1383.6 L1310.0 1383.5 L1312.0 1383.4 L1314.0 1383.2 L1316.0 1383.0 L1318.0 1382.7 L1320.0 1382.1 L1322.0 1381.2 L1324.0 1380.1 L1326.0 1378.9 L1328.0 1377.7 L1330.0 1376.4 L1332.0 1374.9 L1334.0 1373.2 L1336.0 1371.5 L1338.0 1369.8 L1340.0 1368.3 L1342.0 1367.1 L1344.0 1366.1 L1346.0 1365.2 L1348.0 1364.4 L1350.0 1363.6 L1352.0 1362.9 L1354.0 1362.3 L1356.0 1361.6 L1358.0 1360.9 L1360.0 1360.3 L1362.0 1359.8 L1364.0 1359.4 L1366.0 1359.4 L1368.0 1359.4 L1370.0 1359.4 L1372.0 1359.4 L1374.0 1359.4 L1376.0 1359.4 L1378.0 1359.4 L1380.0 1359.5 L1382.0 1359.8 L1384.0 1360.2 L1386.0 1360.6 L1388.0 1361.1 L1390.0 1361.5 L1392.0 1361.9 L1394.0 1362.3 L1396.0 1362.8 L1398.0 1363.2 L1400.0 1363.7 L1402.0 1364.1 L1404.0 1364.5 L1406.0 1365.0 L1408.0 1365.4 L1410.0 1365.8 L1412.0 1366.2 L1414.0 1366.6 L1416.0 1367.0 L1418.0 1367.3 L1420.0 1367.7 L1422.0 1368.0 L1424.0 1368.2 L1426.0 1368.4 L1428.0 1368.5 L1430.0 1368.7 L1432.0 1368.8 L1434.0 1368.9 L1436.0 1368.9 L1438.0 1368.9 L1440.0 1368.8 L1442.0 1368.7 L1444.0 1368.6 L1446.0 1368.5 L1448.0 1368.3 L1450.0 1368.1 L1452.0 1368.0 L1454.0 1367.7 L1456.0 1367.5 L1458.0 1367.3 L1460.0 1367.0 L1462.0 1366.7 L1464.0 1366.5 L1466.0 1366.2 L1468.0 1365.8 L1470.0 1365.5 L1472.0 1365.1 L1474.0 1364.8 L1476.0 1364.3 L1478.0 1363.9 L1480.0 1363.4 L1482.0 1363.0 L1484.0 1362.5 L1486.0 1362.1 L1488.0 1361.8 L1490.0 1361.4 L1492.0 1361.0 L1494.0 1360.5 L1496.0 1359.9 L1498.0 1358.9 L1500.0 1357.7 L1502.0 1356.2 L1504.0 1354.6 L1506.0 1352.9 L1508.0 1351.1 L1510.0 1349.2 L1512.0 1347.3 L1514.0 1345.3 L1516.0 1343.1 L1518.0 1340.8 L1520.0 1338.2 L1522.0 1335.5 L1524.0 1332.5 L1526.0 1329.2 L1528.0 1325.6 L1530.0 1321.4 L1532.0 1315.8 L1534.0 1309.0 L1536.0 1301.8 L1538.0 1294.4 L1540.0 1286.1 L1542.0 1277.3 L1544.0 1268.1 L1546.0 1258.3 L1548.0 1248.1 L1550.0 1237.3 L1552.0 1225.6 L1554.0 1212.8 L1556.0 1198.1 L1558.0 1182.1 L1560.0 1164.2 L1562.0 1145.1 L1564.0 1130.2 L1566.0 1118.6 L1568.0 1107.7 L1570.0 1095.5 L1572.0 1080.9 L1574.0 1066.7 L1576.0 1055.6 L1578.0 1046.2 L1580.0 1038.4 L1582.0 1032.5 L1584.0 1027.6 L1586.0 1024.2 L1588.0 1022.4 L1590.0 1021.1 L1592.0 1020.7 L1594.0 1021.8 L1596.0 1024.1 L1598.0 1027.3 L1600.0 1032.4 L1602.0 1038.4 L1604.0 1045.7 L1606.0 1054.1 L1608.0 1063.0 L1610.0 1072.9 L1612.0 1083.6 L1614.0 1094.5 L1616.0 1105.2 L1618.0 1115.9 L1620.0 1126.6 L1622.0 1137.5 L1624.0 1148.5 L1626.0 1159.6 L1628.0 1171.0 L1630.0 1182.8 L1632.0 1195.3 L1634.0 1207.9 L1636.0 1219.5 L1638.0 1230.3 L1640.0 1240.7 L1642.0 1250.5 L1644.0 1259.9 L1646.0 1269.1 L1648.0 1277.8 L1650.0 1286.0 L1652.0 1293.4 L1654.0 1300.3 L1656.0 1306.7 L1658.0 1312.5 L1660.0 1317.8 L1662.0 1322.4 L1664.0 1326.5 L1666.0 1330.8 L1668.0 1335.8 L1670.0 1341.3 L1672.0 1346.4 L1674.0 1350.5 L1676.0 1354.0 L1678.0 1357.1 L1680.0 1359.9 L1682.0 1362.5 L1684.0 1364.9 L1686.0 1367.2 L1688.0 1369.4 L1690.0 1371.5 L1692.0 1373.4 L1694.0 1375.2 L1696.0 1376.9 L1698.0 1378.5 L1700.0 1380.0 L1702.0 1381.4 L1704.0 1382.7 L1706.0 1383.9 L1708.0 1385.0 L1710.0 1386.0 L1712.0 1386.9 L1714.0 1387.7 L1716.0 1388.4 L1718.0 1389.1 L1720.0 1389.8 L1722.0 1390.4 L1724.0 1391.0 L1726.0 1391.6 L1728.0 1392.2 L1730.0 1392.7 L1732.0 1393.3 L1734.0 1393.8 L1736.0 1394.3 L1738.0 1394.7 L1740.0 1395.2 L1742.0 1395.6 L1744.0 1395.9 L1746.0 1396.3 L1748.0 1396.6 L1750.0 1396.9 L1752.0 1397.1 L1754.0 1397.4 L1756.0 1397.6 L1758.0 1397.9 L1760.0 1398.1 L1762.0 1398.3 L1764.0 1398.5 L1766.0 1398.8 L1768.0 1399.0 L1770.0 1399.2 L1772.0 1399.5 L1774.0 1399.7 L1776.0 1399.9 L1778.0 1400.2 L1780.0 1400.4 L1782.0 1400.6 L1784.0 1400.9 L1786.0 1401.1 L1788.0 1401.3 L1790.0 1401.4 L1792.0 1401.6 L1794.0 1401.8 L1796.0 1401.9 L1798.0 1402.1 L1800.0 1402.3 L1802.0 1402.4 L1804.0 1402.5 L1806.0 1402.7 L1808.0 1402.8 L1810.0 1402.9 L1812.0 1403.0 L1814.0 1403.1 L1816.0 1403.2 L1818.0 1403.3 L1820.0 1403.5 L1822.0 1403.6 L1824.0 1403.7 L1826.0 1403.8 L1828.0 1403.8 L1830.0 1403.9 L1832.0 1404.0 L1834.0 1404.1 L1836.0 1404.1 L1838.0 1404.2 L1840.0 1404.2 L1842.0 1404.2 L1844.0 1404.3 L1846.0 1404.3 L1848.0 1404.3 L1850.0 1404.3 L1852.0 1404.4 L1854.0 1404.4 L1856.0 1404.4 L1858.0 1404.4 L1860.0 1404.4 L1862.0 1404.4 L1864.0 1404.4 L1866.0 1404.4 L1868.0 1404.3 L1870.0 1404.3 L1872.0 1404.2 L1874.0 1404.2 L1876.0 1404.1 L1878.0 1404.0 L1880.0 1404.0 L1882.0 1403.9 L1884.0 1403.8 L1886.0 1403.8 L1888.0 1403.7 L1890.0 1403.7 L1892.0 1403.6 L1894.0 1403.6 L1896.0 1403.6 L1898.0 1403.5 L1900.0 1403.5 L1902.0 1403.4 L1904.0 1403.4 L1906.0 1403.4 L1908.0 1403.3 L1910.0 1403.3 L1912.0 1403.3 L1914.0 1403.3 L1916.0 1403.2 L1918.0 1403.2 L1920.0 1403.2 L1922.0 1403.2 L1924.0 1403.2 L1926.0 1403.2 L1928.0 1403.2 L1930.0 1403.2 L1932.0 1403.2 L1934.0 1403.2 L1936.0 1403.2 L1938.0 1403.2 L1940.0 1403.2 L1942.0 1403.2 L1944.0 1403.2 L1946.0 1403.2 L1948.0 1403.2 L1950.0 1403.2 L1952.0 1403.2 L1954.0 1403.2 L1956.0 1403.2 L1958.0 1403.2 L1960.0 1403.2 L1962.0 1403.2 L1964.0 1403.2 L1965.0 1403.2 L1975.0 1403.2"/>
<path stroke="#0000ff" d="M216.0 1234.7 L226.0 1230.4 L228.0 1229.4 L230.0 1228.2 L232.0 1226.7 L234.0 1225.0 L236.0 1223.2 L238.0 1221.2 L240.0 1218.8 L242.0 1216.1 L244.0 1212.9 L246.0 1209.5 L248.0 1205.9 L250.0 1202.1 L252.0 1198.3 L254.0 1194.5 L256.0 1190.8 L258.0 1187.2 L260.0 1183.8 L262.0 1180.6 L264.0 1177.4 L266.0 1174.2 L268.0 1171.1 L270.0 1168.0 L272.0 1164.7 L274.0 1161.4 L276.0 1158.0 L278.0 1154.4 L280.0 1150.6 L282.0 1146.6 L284.0 1142.1 L286.0 1137.3 L288.0 1132.2 L290.0 1126.9 L292.0 1121.7 L294.0 1116.7 L296.0 1111.9 L298.0 1107.3 L300.0 1102.8 L302.0 1098.3 L304.0 1093.8 L306.0 1089.2 L308.0 1084.5 L310.0 1079.6 L312.0 1074.5 L314.0 1069.1 L316.0 1063.6 L318.0 1057.9 L320.0 1052.1 L322.0 1046.4 L324.0 1040.7 L326.0 1035.0 L328.0 1029.3 L330.0 1023.5 L332.0 1017.7 L334.0 1012.0 L336.0 1006.5 L338.0 1001.1 L340.0 995.8 L342.0 990.5 L344.0 985.2 L346.0 980.1 L348.0 975.1 L350.0 970.4 L352.0 965.9 L354.0 961.7 L356.0 957.8 L358.0 954.1 L360.0 950.6 L362.0 947.3 L364.0 943.9 L366.0 940.7 L368.0 937.5 L370.0 934.5 L372.0 931.5 L374.0 928.5 L376.0 925.5 L378.0 922.3 L380.0 919.0 L382.0 915.5 L384.0 911.9 L386.0 908.4 L388.0 905.1 L390.0 902.2 L392.0 899.4 L394.0 896.9 L396.0 894.4 L398.0 892.1 L400.0 889.9 L402.0 887.8 L404.0 885.8 L406.0 883.9 L408.0 882.0 L410.0 880.3 L412.0 878.6 L414.0 877.0 L416.0 875.6 L418.0 874.1 L420.0 872.3 L422.0 870.3 L424.0 867.9 L426.0 865.4 L428.0 862.5 L430.0 859.4 L432.0 856.2 L434.0 852.9 L436.0 849.5 L438.0 846.4 L440.0 843.0 L442.0 838.2 L444.0 831.8 L446.0 824.5 L448.0 817.3 L450.0 810.1 L452.0 802.7 L454.0 795.5 L456.0 789.1 L458.0 783.9 L460.0 779.2 L462.0 774.4 L464.0 768.5 L466.0 760.9 L468.0 750.9 L470.0 738.6 L472.0 724.0 L474.0 704.6 L476.0 680.3 L478.0 664.6 L480.0 659.9 L482.0 655.2 L484.0 649.7 L486.0 643.8 L488.0 637.4 L490.0 630.6 L492.0 623.8 L494.0 617.1 L496.0 610.9 L498.0 605.3 L500.0 600.1 L502.0 595.2 L504.0 590.5 L506.0 585.9 L508.0 581.4 L510.0 576.9 L512.0 572.2 L514.0 567.5 L516.0 562.6 L518.0 557.6 L520.0 552.5 L522.0 547.5 L524.0 542.7 L526.0 538.0 L528.0 533.6 L530.0 529.5 L532.0 525.6 L534.0 521.9 L536.0 518.6 L538.0 516.1 L540.0 514.2 L542.0 512.6 L544.0 511.4 L546.0 511.2 L548.0 512.0 L550.0 513.4 L552.0 515.1 L554.0 517.2 L556.0 520.3 L558.0 524.1 L560.0 528.5 L562.0 533.7 L564.0 540.1 L566.0 547.9 L568.0 556.7 L570.0 566.7 L572.0 579.4 L574.0 596.3 L576.0 610.4 L578.0 620.5 L580.0 629.3 L582.0 637.9 L584.0 647.8 L586.0 659.1 L588.0 671.3 L590.0 684.4 L592.0 699.3 L594.0 715.0 L596.0 729.4 L598.0 742.6 L600.0 756.2 L602.0 770.9 L604.0 785.7 L606.0 800.2 L608.0 814.3 L610.0 829.0 L612.0 845.0 L614.0 861.5 L616.0 877.8 L618.0 894.0 L620.0 910.1 L622.0 926.6 L624.0 941.4 L626.0 954.0 L628.0 965.8 L630.0 978.1 L632.0 991.0 L634.0 1004.0 L636.0 1017.0 L638.0 1030.1 L640.0 1043.1 L642.0 1055.6 L644.0 1068.2 L646.0 1080.1 L648.0 1090.5 L650.0 1099.4 L652.0 1107.5 L654.0 1115.4 L656.0 1123.7 L658.0 1132.3 L660.0 1140.8 L662.0 1148.9 L664.0 1156.1 L666.0 1162.5 L668.0 1168.5 L670.0 1174.0 L672.0 1179.4 L674.0 1184.5 L676.0 1189.5 L678.0 1194.6 L680.0 1199.7 L682.0 1204.7 L684.0 1209.6 L686.0 1214.4 L688.0 1219.1 L690.0 1223.7 L692.0 1228.3 L694.0 1232.8 L696.0 1237.3 L698.0 1242.0 L700.0 1246.5 L702.0 1250.8 L704.0 1254.7 L706.0 1258.1 L708.0 1261.0 L710.0 1263.7 L712.0 1266.1 L714.0 1268.5 L716.0 1270.7 L718.0 1272.8 L720.0 1274.8 L722.0 1276.8 L724.0 1278.8 L726.0 1280.8 L728.0 1282.8 L730.0 1284.9 L732.0 1287.0 L734.0 1289.2 L736.0 1291.3 L738.0 1293.4 L740.0 1295.5 L742.0 1297.4 L744.0 1299.3 L746.0 1301.1 L748.0 1302.7 L750.0 1304.1 L752.0 1305.3 L754.0 1306.5 L756.0 1307.5 L758.0 1308.6 L760.0 1309.5 L762.0 1310.4 L764.0 1311.3 L766.0 1312.1 L768.0 1312.9 L770.0 1313.6 L772.0 1314.3 L774.0 1315.0 L776.0 1315.6 L778.0 1316.2 L780.0 1316.8 L782.0 1317.3 L784.0 1317.8 L786.0 1318.3 L788.0 1318.8 L790.0 1319.3 L792.0 1319.7 L794.0 1320.2 L796.0 1320.6 L798.0 1321.1 L800.0 1321.6 L802.0 1322.1 L804.0 1322.6 L806.0 1323.1 L808.0 1323.6 L810.0 1324.1 L812.0 1324.6 L814.0 1325.0 L816.0 1325.5 L818.0 1325.9 L820.0 1326.2 L822.0 1326.6 L824.0 1326.9 L826.0 1327.2 L828.0 1327.6 L830.0 1327.9 L832.0 1328.2 L834.0 1328.5 L836.0 1328.8 L838.0 1329.0 L840.0 1329.2 L842.0 1329.4 L844.0 1329.4 L846.0 1329.5 L848.0 1329.4 L850.0 1329.3 L852.0 1329.1 L854.0 1329.0 L856.0 1328.8 L858.0 1328.5 L860.0 1328.3 L862.0 1328.0 L864.0 1327.6 L866.0 1327.1 L868.0 1326.6 L870.0 1326.0 L872.0 1325.1 L874.0 1324.0 L876.0 1322.6 L878.0 1321.0 L880.0 1319.3 L882.0 1317.4 L884.0 1314.8 L886.0 1311.8 L888.0 1308.5 L890.0 1305.1 L892.0 1301.9 L894.0 1298.9 L896.0 1296.1 L898.0 1293.3 L900.0 1290.5 L902.0 1287.7 L904.0 1284.7 L906.0 1281.7 L908.0 1278.6 L910.0 1275.7 L912.0 1272.9 L914.0 1270.4 L916.0 1268.0 L918.0 1265.6 L920.0 1263.4 L922.0 1261.4 L924.0 1259.7 L926.0 1258.4 L928.0 1257.3 L930.0 1256.2 L932.0 1255.3 L934.0 1254.6 L936.0 1254.0 L938.0 1253.7 L940.0 1253.4 L942.0 1253.3 L944.0 1253.2 L946.0 1253.5 L948.0 1253.8 L950.0 1254.3 L952.0 1255.2 L954.0 1256.5 L956.0 1258.0 L958.0 1259.6 L960.0 1261.3 L962.0 1263.0 L964.0 1264.8 L966.0 1266.8 L968.0 1269.0 L970.0 1271.3 L972.0 1273.7 L974.0 1276.4 L976.0 1279.4 L978.0 1282.7 L980.0 1286.1 L982.0 1289.6 L984.0 1293.1 L986.0 1296.5 L988.0 1300.0 L990.0 1303.5 L992.0 1307.0 L994.0 1310.3 L996.0 1313.3 L998.0 1316.0 L1000.0 1318.5 L1002.0 1321.0 L1004.0 1323.2 L1006.0 1325.2 L1008.0 1327.0 L1010.0 1328.5 L1012.0 1329.9 L1014.0 1331.2 L1016.0 1332.3 L1018.0 1333.3 L1020.0 1334.1 L1022.0 1334.7 L1024.0 1335.2 L1026.0 1335.7 L1028.0 1336.1 L1030.0 1336.4 L1032.0 1336.6 L1034.0 1336.6 L1036.0 1336.6 L1038.0 1336.7 L1040.0 1336.7 L1042.0 1336.7 L1044.0 1336.8 L1046.0 1336.9 L1048.0 1337.0 L1050.0 1337.1 L1052.0 1337.3 L1054.0 1337.5 L1056.0 1337.7 L1058.0 1338.0 L1060.0 1338.4 L1062.0 1338.9 L1064.0 1339.5 L1066.0 1340.1 L1068.0 1340.7 L1070.0 1341.5 L1072.0 1342.4 L1074.0 1343.4 L1076.0 1344.4 L1078.0 1345.4 L1080.0 1346.4 L1082.0 1347.3 L1084.0 1348.4 L1086.0 1349.4 L1088.0 1350.4 L1090.0 1351.3 L1092.0 1352.2 L1094.0 1353.1 L1096.0 1354.0 L1098.0 1354.9 L1100.0 1355.7 L1102.0 1356.4 L1104.0 1357.0 L1106.0 1357.5 L1108.0 1357.9 L1110.0 1358.3 L1112.0 1358.7 L1114.0 1359.1 L1116.0 1359.6 L1118.0 1360.1 L1120.0 1360.5 L1122.0 1360.8 L1124.0 1360.9 L1126.0 1360.9 L1128.0 1361.0 L1130.0 1361.1 L1132.0 1361.1 L1134.0 1361.2 L1136.0 1361.2 L1138.0 1361.2 L1140.0 1361.3 L1142.0 1361.3 L1144.0 1361.3 L1146.0 1361.3 L1148.0 1361.3 L1150.0 1361.2 L1152.0 1361.2 L1154.0 1361.1 L1156.0 1361.0 L1158.0 1360.9 L1160.0 1360.9 L1162.0 1360.8 L1164.0 1360.7 L1166.0 1360.7 L1168.0 1360.6 L1170.0 1360.6 L1172.0 1360.7 L1174.0 1360.8 L1176.0 1360.9 L1178.0 1361.0 L1180.0 1361.2 L1182.0 1361.4 L1184.0 1361.6 L1186.0 1361.8 L1188.0 1362.0 L1190.0 1362.3 L1192.0 1362.5 L1194.0 1362.7 L1196.0 1363.0 L1198.0 1363.3 L1200.0 1363.6 L1202.0 1364.0 L1204.0 1364.3 L1206.0 1364.7 L1208.0 1365.1 L1210.0 1365.4 L1212.0 1365.8 L1214.0 1366.1 L1216.0 1366.4 L1218.0 1366.6 L1220.0 1366.9 L1222.0 1367.1 L1224.0 1367.3 L1226.0 1367.6 L1228.0 1367.8 L1230.0 1368.0 L1232.0 1368.2 L1234.0 1368.4 L1236.0 1368.5 L1238.0 1368.7 L1240.0 1368.9 L1242.0 1369.1 L1244.0 1369.3 L1246.0 1369.5 L1248.0 1369.7 L1250.0 1370.0 L1252.0 1370.2 L1254.0 1370.4 L1256.0 1370.5 L1258.0 1370.7 L1260.0 1370.8 L1262.0 1370.8 L1264.0 1370.9 L1266.0 1370.9 L1268.0 1370.8 L1270.0 1370.8 L1272.0 1370.8 L1274.0 1370.7 L1276.0 1370.6 L1278.0 1370.6 L1280.0 1370.5 L1282.0 1370.4 L1284.0 1370.3 L1286.0 1370.0 L1288.0 1369.7 L1290.0 1369.4 L1292.0 1369.0 L1294.0 1368.6 L1296.0 1368.2 L1298.0 1367.9 L1300.0 1367.5 L1302.0 1367.2 L1304.0 1366.9 L1306.0 1366.7 L1308.0 1366.4 L1310.0 1366.0 L1312.0 1365.7 L1314.0 1365.3 L1316.0 1364.8 L1318.0 1364.2 L1320.0 1363.2 L1322.0 1361.9 L1324.0 1360.4 L1326.0 1358.9 L1328.0 1357.5 L1330.0 1356.2 L1332.0 1354.9 L1334.0 1353.5 L1336.0 1352.2 L1338.0 1351.0 L1340.0 1349.8 L1342.0 1348.8 L1344.0 1348.0 L1346.0 1347.1 L1348.0 1346.4 L1350.0 1345.7 L1352.0 1345.1 L1354.0 1344.5 L1356.0 1344.0 L1358.0 1343.5 L1360.0 1343.0 L1362.0 1342.7 L1364.0 1342.4 L1366.0 1342.4 L1368.0 1342.4 L1370.0 1342.4 L1372.0 1342.4 L1374.0 1342.4 L1376.0 1342.4 L1378.0 1342.4 L1380.0 1342.5 L1382.0 1342.8 L1384.0 1343.1 L1386.0 1343.5 L1388.0 1343.9 L1390.0 1344.2 L1392.0 1344.6 L1394.0 1344.9 L1396.0 1345.2 L1398.0 1345.6 L1400.0 1346.0 L1402.0 1346.5 L1404.0 1347.0 L1406.0 1347.7 L1408.0 1348.3 L1410.0 1348.9 L1412.0 1349.3 L1414.0 1349.6 L1416.0 1349.8 L1418.0 1350.0 L1420.0 1350.2 L1422.0 1350.3 L1424.0 1350.5 L1426.0 1350.6 L1428.0 1350.8 L1430.0 1351.0 L1432.0 1351.1 L1434.0 1351.2 L1436.0 1351.3 L1438.0 1351.3 L1440.0 1351.2 L1442.0 1351.1 L1444.0 1351.0 L1446.0 1350.9 L1448.0 1350.8 L1450.0 1350.6 L1452.0 1350.4 L1454.0 1350.2 L1456.0 1350.0 L1458.0 1349.7 L1460.0 1349.5 L1462.0 1349.2 L1464.0 1348.8 L1466.0 1348.5 L1468.0 1348.1 L1470.0 1347.7 L1472.0 1347.3 L1474.0 1346.9 L1476.0 1346.5 L1478.0 1346.1 L1480.0 1345.6 L1482.0 1345.3 L1484.0 1344.9 L1486.0 1344.6 L1488.0 1344.4 L1490.0 1344.2 L1492.0 1344.0 L1494.0 1343.7 L1496.0 1343.2 L1498.0 1342.5 L1500.0 1341.3 L1502.0 1339.9 L1504.0 1338.2 L1506.0 1336.4 L1508.0 1334.4 L1510.0 1331.9 L1512.0 1329.2 L1514.0 1326.6 L1516.0 1323.9 L1518.0 1321.2 L1520.0 1318.4 L1522.0 1315.5 L1524.0 1312.5 L1526.0 1309.6 L1528.0 1306.6 L1530.0 1303.5 L1532.0 1300.0 L1534.0 1296.0 L1536.0 1291.3 L1538.0 1285.0 L1540.0 1277.1 L1542.0 1268.2 L1544.0 1258.9 L1546.0 1249.6 L1548.0 1239.5 L1550.0 1228.8 L1552.0 1217.8 L1554.0 1206.6 L1556.0 1195.0 L1558.0 1182.9 L1560.0 1170.1 L1562.0 1156.3 L1564.0 1142.6 L1566.0 1129.8 L1568.0 1117.3 L1570.0 1105.2 L1572.0 1093.5 L1574.0 1081.5 L1576.0 1070.3 L1578.0 1061.5 L1580.0 1054.9 L1582.0 1049.3 L1584.0 1045.1 L1586.0 1042.3 L1588.0 1040.0 L1590.0 1038.3 L1592.0 1037.8 L1594.0 1038.7 L1596.0 1040.8 L1598.0 1043.4 L1600.0 1046.7 L1602.0 1051.5 L1604.0 1057.1 L1606.0 1062.7 L1608.0 1068.7 L1610.0 1075.0 L1612.0 1081.7 L1614.0 1088.5 L1616.0 1095.4 L1618.0 1102.3 L1620.0 1109.5 L1622.0 1116.9 L1624.0 1124.3 L1626.0 1131.6 L1628.0 1138.7 L1630.0 1145.5 L1632.0 1152.1 L1634.0 1158.7 L1636.0 1165.2 L1638.0 1171.8 L1640.0 1178.6 L1642.0 1185.6 L1644.0 1192.7 L1646.0 1199.9 L1648.0 1207.2 L1650.0 1214.6 L1652.0 1222.3 L1654.0 1230.4 L1656.0 1238.6 L1658.0 1246.4 L1660.0 1253.4 L1662.0 1259.4 L1664.0 1265.0 L1666.0 1270.1 L1668.0 1275.1 L1670.0 1279.9 L1672.0 1284.6 L1674.0 1289.4 L1676.0 1294.4 L1678.0 1299.8 L1680.0 1305.2 L1682.0 1310.4 L1684.0 1314.9 L1686.0 1318.6 L1688.0 1321.6 L1690.0 1324.2 L1692.0 1326.6 L1694.0 1328.8 L1696.0 1331.0 L1698.0 1333.1 L1700.0 1335.3 L1702.0 1337.4 L1704.0 1339.4 L1706.0 1341.3 L1708.0 1343.0 L1710.0 1344.5 L1712.0 1345.9 L1714.0 1347.1 L1716.0 1348.3 L1718.0 1349.3 L1720.0 1350.4 L1722.0 1351.3 L1724.0 1352.3 L1726.0 1353.3 L1728.0 1354.2 L1730.0 1355.1 L1732.0 1355.9 L1734.0 1356.8 L1736.0 1357.5 L1738.0 1358.3 L1740.0 1359.0 L1742.0 1359.7 L1744.0 1360.3 L1746.0 1360.8 L1748.0 1361.3 L1750.0 1361.8 L1752.0 1362.3 L1754.0 1362.7 L1756.0 1363.1 L1758.0 1363.5 L1760.0 1363.9 L1762.0 1364.3 L1764.0 1364.7 L1766.0 1365.0 L1768.0 1365.4 L1770.0 1365.8 L1772.0 1366.2 L1774.0 1366.6 L1776.0 1366.9 L1778.0 1367.3 L1780.0 1367.6 L1782.0 1368.0 L1784.0 1368.3 L1786.0 1368.6 L1788.0 1369.0 L1790.0 1369.3 L1792.0 1369.6 L1794.0 1369.9 L1796.0 1370.2 L1798.0 1370.4 L1800.0 1370.7 L1802.0 1371.0 L1804.0 1371.2 L1806.0 1371.5 L1808.0 1371.7 L1810.0 1372.0 L1812.0 1372.2 L1814.0 1372.5 L1816.0 1372.7 L1818.0 1373.0 L1820.0 1373.3 L1822.0 1373.6 L1824.0 1373.9 L1826.0 1374.2 L1828.0 1374.4 L1830.0 1374.7 L1832.0 1375.0 L1834.0 1375.2 L1836.0 1375.4 L1838.0 1375.6 L1840.0 1375.7 L1842.0 1375.9 L1844.0 1376.0 L1846.0 1376.1 L1848.0 1376.2 L1850.0 1376.3 L1852.0 1376.4 L1854.0 1376.5 L1856.0 1376.6 L1858.0 1376.7 L1860.0 1376.7 L1862.0 1376.8 L1864.0 1376.9 L1866.0 1377.0 L1868.0 1377.1 L1870.0 1377.3 L1872.0 1377.4 L1874.0 1377.5 L1876.0 1377.6 L1878.0 1377.7 L1880.0 1377.8 L1882.0 1377.9 L1884.0 1378.0 L1886.0 1378.1 L1888.0 1378.2 L1890.0 1378.3 L1892.0 1378.4 L1894.0 1378.4 L1896.0 1378.5 L1898.0 1378.6 L1900.0 1378.6 L1902.0 1378.7 L1904.0 1378.8 L1906.0 1378.9 L1908.0 1378.9 L1910.0 1379.0 L1912.0 1379.1 L1914.0 1379.3 L1916.0 1379.4 L1918.0 1379.5 L1920.0 1379.7 L1922.0 1379.9 L1924.0 1380.0 L1926.0 1380.2 L1928.0 1380.4 L1930.0 1380.6 L1932.0 1380.8 L1934.0 1381.0 L1936.0 1381.3 L1938.0 1381.5 L1940.0 1381.7 L1942.0 1381.9 L1944.0 1382.2 L1946.0 1382.4 L1948.0 1382.6 L1950.0 1382.8 L1952.0 1383.0 L1954.0 1383.1 L1956.0 1383.3 L1958.0 1383.4 L1960.0 1383.6 L1962.0 1383.7 L1964.0 1383.8 L1965.0 1383.9 L1975.0 1384.4"/>
<path stroke="#00ffff" d="M216.0 1238.4 L226.0 1236.0 L228.0 1235.3 L230.0 1234.3 L232.0 1232.9 L234.0 1231.2 L236.0 1229.4 L238.0 1227.4 L240.0 1224.9 L242.0 1221.8 L244.0 1218.3 L246.0 1214.6 L248.0 1210.9 L250.0 1207.4 L252.0 1204.1 L254.0 1200.8 L256.0 1197.5 L258.0 1194.1 L260.0 1190.4 L262.0 1186.5 L264.0 1182.3 L266.0 1177.8 L268.0 1173.0 L270.0 1168.2 L272.0 1163.3 L274.0 1158.4 L276.0 1153.4 L278.0 1148.2 L280.0 1143.1 L282.0 1137.9 L284.0 1132.7 L286.0 1127.6 L288.0 1122.7 L290.0 1117.6 L292.0 1112.2 L294.0 1106.7 L296.0 1101.0 L298.0 1095.3 L300.0 1089.4 L302.0 1083.4 L304.0 1077.3 L306.0 1071.1 L308.0 1064.7 L310.0 1058.3 L312.0 1051.8 L314.0 1045.3 L316.0 1038.9 L318.0 1032.7 L320.0 1026.6 L322.0 1020.6 L324.0 1014.5 L326.0 1008.3 L328.0 1002.0 L330.0 995.5 L332.0 988.7 L334.0 981.8 L336.0 975.0 L338.0 968.4 L340.0 962.3 L342.0 956.7 L344.0 951.4 L346.0 946.2 L348.0 941.2 L350.0 936.2 L352.0 931.4 L354.0 926.6 L356.0 921.7 L358.0 916.8 L360.0 911.9 L362.0 907.0 L364.0 902.0 L366.0 896.8 L368.0 891.5 L370.0 885.6 L372.0 879.9 L374.0 874.6 L376.0 869.6 L378.0 864.9 L380.0 860.7 L382.0 856.6 L384.0 852.7 L386.0 848.8 L388.0 844.7 L390.0 840.4 L392.0 835.8 L394.0 831.1 L396.0 826.3 L398.0 821.6 L400.0 817.1 L402.0 812.8 L404.0 808.7 L406.0 804.6 L408.0 800.6 L410.0 796.7 L412.0 792.9 L414.0 789.2 L416.0 785.7 L418.0 782.5 L420.0 779.2 L422.0 775.9 L424.0 772.5 L426.0 768.7 L428.0 764.5 L430.0 759.9 L432.0 754.9 L434.0 749.5 L436.0 743.8 L438.0 737.7 L440.0 731.3 L442.0 724.6 L444.0 717.4 L446.0 709.4 L448.0 700.8 L450.0 691.6 L452.0 681.9 L454.0 671.3 L456.0 659.9 L458.0 648.0 L460.0 635.9 L462.0 623.2 L464.0 610.1 L466.0 597.2 L468.0 584.1 L470.0 568.1 L472.0 546.0 L474.0 518.1 L476.0 487.3 L478.0 466.5 L480.0 451.5 L482.0 441.1 L484.0 432.8 L486.0 425.5 L488.0 417.6 L490.0 408.5 L492.0 399.1 L494.0 389.2 L496.0 378.6 L498.0 366.3 L500.0 355.9 L502.0 347.2 L504.0 339.3 L506.0 331.4 L508.0 322.9 L510.0 313.8 L512.0 304.5 L514.0 295.2 L516.0 286.1 L518.0 277.2 L520.0 268.2 L522.0 259.5 L524.0 251.4 L526.0 243.8 L528.0 236.3 L530.0 230.1 L532.0 226.2 L534.0 223.3 L536.0 222.0 L538.0 223.2 L540.0 225.8 L542.0 228.7 L544.0 231.6 L546.0 235.1 L548.0 239.2 L550.0 244.3 L552.0 250.5 L554.0 260.3 L556.0 273.0 L558.0 287.3 L560.0 304.6 L562.0 323.7 L564.0 342.1 L566.0 360.9 L568.0 380.0 L570.0 399.5 L572.0 419.6 L574.0 440.3 L576.0 463.3 L578.0 490.9 L580.0 531.5 L582.0 551.0 L584.0 567.1 L586.0 585.2 L588.0 604.8 L590.0 630.0 L592.0 656.5 L594.0 681.9 L596.0 707.7 L598.0 731.3 L600.0 752.7 L602.0 779.7 L604.0 801.8 L606.0 819.2 L608.0 841.1 L610.0 867.2 L612.0 889.2 L614.0 910.8 L616.0 933.3 L618.0 954.8 L620.0 974.6 L622.0 991.1 L624.0 1006.8 L626.0 1024.7 L628.0 1043.7 L630.0 1061.3 L632.0 1078.0 L634.0 1091.8 L636.0 1102.6 L638.0 1112.5 L640.0 1123.5 L642.0 1135.7 L644.0 1147.9 L646.0 1158.4 L648.0 1167.5 L650.0 1175.8 L652.0 1183.7 L654.0 1191.2 L656.0 1198.8 L658.0 1206.2 L660.0 1213.5 L662.0 1220.5 L664.0 1227.1 L666.0 1233.1 L668.0 1238.5 L670.0 1243.6 L672.0 1248.3 L674.0 1252.9 L676.0 1257.5 L678.0 1262.1 L680.0 1266.8 L682.0 1271.4 L684.0 1275.8 L686.0 1279.9 L688.0 1283.7 L690.0 1287.1 L692.0 1290.4 L694.0 1293.6 L696.0 1296.6 L698.0 1299.5 L700.0 1302.1 L702.0 1304.6 L704.0 1306.9 L706.0 1309.1 L708.0 1311.2 L710.0 1313.2 L712.0 1315.1 L714.0 1317.0 L716.0 1318.8 L718.0 1320.5 L720.0 1322.1 L722.0 1323.5 L724.0 1324.9 L726.0 1326.1 L728.0 1327.3 L730.0 1328.3 L732.0 1329.3 L734.0 1330.3 L736.0 1331.2 L738.0 1332.1 L740.0 1332.9 L742.0 1333.7 L744.0 1334.4 L746.0 1335.1 L748.0 1335.7 L750.0 1336.2 L752.0 1336.7 L754.0 1337.1 L756.0 1337.5 L758.0 1337.9 L760.0 1338.3 L762.0 1338.7 L764.0 1339.0 L766.0 1339.3 L768.0 1339.6 L770.0 1339.8 L772.0 1340.1 L774.0 1340.3 L776.0 1340.5 L778.0 1340.6 L780.0 1340.8 L782.0 1341.0 L784.0 1341.2 L786.0 1341.3 L788.0 1341.5 L790.0 1341.6 L792.0 1341.7 L794.0 1341.8 L796.0 1341.8 L798.0 1341.8 L800.0 1341.8 L802.0 1341.8 L804.0 1341.8 L806.0 1341.8 L808.0 1341.8 L810.0 1341.8 L812.0 1341.8 L814.0 1341.8 L816.0 1341.8 L818.0 1341.8 L820.0 1341.8 L822.0 1341.8 L824.0 1341.8 L826.0 1341.8 L828.0 1341.8 L830.0 1341.7 L832.0 1341.6 L834.0 1341.6 L836.0 1341.5 L838.0 1341.4 L840.0 1341.2 L842.0 1341.1 L844.0 1341.0 L846.0 1340.8 L848.0 1340.6 L850.0 1340.2 L852.0 1339.7 L854.0 1339.1 L856.0 1338.4 L858.0 1337.7 L860.0 1337.0 L862.0 1336.0 L864.0 1335.0 L866.0 1333.8 L868.0 1332.5 L870.0 1331.1 L872.0 1329.4 L874.0 1327.5 L876.0 1325.4 L878.0 1323.0 L880.0 1320.6 L882.0 1318.1 L884.0 1315.2 L886.0 1312.0 L888.0 1308.7 L890.0 1305.4 L892.0 1302.2 L894.0 1299.3 L896.0 1296.4 L898.0 1293.6 L900.0 1290.8 L902.0 1288.0 L904.0 1285.0 L906.0 1282.0 L908.0 1279.0 L910.0 1276.0 L912.0 1273.2 L914.0 1270.7 L916.0 1268.3 L918.0 1265.9 L920.0 1263.7 L922.0 1261.7 L924.0 1260.0 L926.0 1258.7 L928.0 1257.6 L930.0 1256.6 L932.0 1255.7 L934.0 1255.0 L936.0 1254.4 L938.0 1254.1 L940.0 1253.8 L942.0 1253.7 L944.0 1253.7 L946.0 1253.9 L948.0 1254.3 L950.0 1254.8 L952.0 1255.7 L954.0 1256.9 L956.0 1258.5 L958.0 1260.2 L960.0 1261.9 L962.0 1263.7 L964.0 1265.6 L966.0 1267.7 L968.0 1270.0 L970.0 1272.5 L972.0 1275.1 L974.0 1277.8 L976.0 1280.9 L978.0 1284.3 L980.0 1287.9 L982.0 1291.4 L984.0 1294.9 L986.0 1298.3 L988.0 1301.8 L990.0 1305.3 L992.0 1308.8 L994.0 1312.0 L996.0 1314.9 L998.0 1317.5 L1000.0 1320.0 L1002.0 1322.4 L1004.0 1324.5 L1006.0 1326.4 L1008.0 1328.1 L1010.0 1329.5 L1012.0 1330.8 L1014.0 1332.0 L1016.0 1333.1 L1018.0 1334.0 L1020.0 1334.6 L1022.0 1335.1 L1024.0 1335.6 L1026.0 1336.0 L1028.0 1336.3 L1030.0 1336.5 L1032.0 1336.6 L1034.0 1336.6 L1036.0 1336.6 L1038.0 1336.6 L1040.0 1336.6 L1042.0 1336.6 L1044.0 1336.6 L1046.0 1336.6 L1048.0 1336.7 L1050.0 1336.8 L1052.0 1336.9 L1054.0 1337.1 L1056.0 1337.2 L1058.0 1337.5 L1060.0 1337.9 L1062.0 1338.4 L1064.0 1339.0 L1066.0 1339.6 L1068.0 1340.2 L1070.0 1341.0 L1072.0 1341.9 L1074.0 1342.8 L1076.0 1343.8 L1078.0 1344.9 L1080.0 1345.8 L1082.0 1346.8 L1084.0 1347.8 L1086.0 1348.8 L1088.0 1349.8 L1090.0 1350.7 L1092.0 1351.6 L1094.0 1352.5 L1096.0 1353.4 L1098.0 1354.2 L1100.0 1355.0 L1102.0 1355.6 L1104.0 1356.2 L1106.0 1356.8 L1108.0 1357.3 L1110.0 1357.8 L1112.0 1358.2 L1114.0 1358.4 L1116.0 1358.6 L1118.0 1358.6 L1120.0 1358.7 L1122.0 1358.7 L1124.0 1358.8 L1126.0 1358.8 L1128.0 1358.8 L1130.0 1358.9 L1132.0 1358.9 L1134.0 1358.9 L1136.0 1359.0 L1138.0 1359.0 L1140.0 1359.0 L1142.0 1359.0 L1144.0 1359.0 L1146.0 1359.0 L1148.0 1359.0 L1150.0 1358.8 L1152.0 1358.6 L1154.0 1358.4 L1156.0 1358.1 L1158.0 1357.9 L1160.0 1357.6 L1162.0 1357.3 L1164.0 1357.1 L1166.0 1357.0 L1168.0 1356.9 L1170.0 1356.9 L1172.0 1356.9 L1174.0 1357.0 L1176.0 1357.1 L1178.0 1357.2 L1180.0 1357.4 L1182.0 1357.6 L1184.0 1357.8 L1186.0 1358.0 L1188.0 1358.2 L1190.0 1358.4 L1192.0 1358.6 L1194.0 1358.8 L1196.0 1359.1 L1198.0 1359.4 L1200.0 1359.8 L1202.0 1360.1 L1204.0 1360.5 L1206.0 1360.9 L1208.0 1361.3 L1210.0 1361.6 L1212.0 1362.0 L1214.0 1362.3 L1216.0 1362.5 L1218.0 1362.7 L1220.0 1363.0 L1222.0 1363.2 L1224.0 1363.4 L1226.0 1363.6 L1228.0 1363.8 L1230.0 1364.0 L1232.0 1364.2 L1234.0 1364.3 L1236.0 1364.4 L1238.0 1364.5 L1240.0 1364.5 L1242.0 1364.5 L1244.0 1364.5 L1246.0 1364.6 L1248.0 1364.6 L1250.0 1364.6 L1252.0 1364.6 L1254.0 1364.6 L1256.0 1364.6 L1258.0 1364.6 L1260.0 1364.6 L1262.0 1364.6 L1264.0 1364.6 L1266.0 1364.6 L1268.0 1364.6 L1270.0 1364.6 L1272.0 1364.5 L1274.0 1364.5 L1276.0 1364.5 L1278.0 1364.4 L1280.0 1364.3 L1282.0 1364.3 L1284.0 1364.1 L1286.0 1363.9 L1288.0 1363.6 L1290.0 1363.2 L1292.0 1362.8 L1294.0 1362.4 L1296.0 1362.1 L1298.0 1361.8 L1300.0 1361.5 L1302.0 1361.4 L1304.0 1361.3 L1306.0 1361.2 L1308.0 1361.1 L1310.0 1360.9 L1312.0 1360.8 L1314.0 1360.7 L1316.0 1360.4 L1318.0 1360.1 L1320.0 1359.4 L1322.0 1358.3 L1324.0 1357.1 L1326.0 1355.7 L1328.0 1354.4 L1330.0 1353.3 L1332.0 1352.1 L1334.0 1350.9 L1336.0 1349.7 L1338.0 1348.5 L1340.0 1347.4 L1342.0 1346.5 L1344.0 1345.6 L1346.0 1344.7 L1348.0 1343.9 L1350.0 1343.2 L1352.0 1342.5 L1354.0 1342.0 L1356.0 1341.5 L1358.0 1341.0 L1360.0 1340.6 L1362.0 1340.2 L1364.0 1339.9 L1366.0 1339.7 L1368.0 1339.6 L1370.0 1339.4 L1372.0 1339.3 L1374.0 1339.2 L1376.0 1339.2 L1378.0 1339.1 L1380.0 1339.3 L1382.0 1339.5 L1384.0 1339.7 L1386.0 1340.0 L1388.0 1340.3 L1390.0 1340.5 L1392.0 1340.8 L1394.0 1341.1 L1396.0 1341.3 L1398.0 1341.6 L1400.0 1341.9 L1402.0 1342.2 L1404.0 1342.5 L1406.0 1342.9 L1408.0 1343.2 L1410.0 1343.5 L1412.0 1343.9 L1414.0 1344.2 L1416.0 1344.4 L1418.0 1344.7 L1420.0 1345.0 L1422.0 1345.2 L1424.0 1345.4 L1426.0 1345.6 L1428.0 1345.7 L1430.0 1345.9 L1432.0 1346.0 L1434.0 1346.1 L1436.0 1346.1 L1438.0 1346.1 L1440.0 1346.0 L1442.0 1345.9 L1444.0 1345.7 L1446.0 1345.5 L1448.0 1345.3 L1450.0 1345.1 L1452.0 1344.7 L1454.0 1344.4 L1456.0 1343.9 L1458.0 1343.5 L1460.0 1343.0 L1462.0 1342.6 L1464.0 1342.1 L1466.0 1341.5 L1468.0 1341.0 L1470.0 1340.4 L1472.0 1339.8 L1474.0 1339.1 L1476.0 1338.3 L1478.0 1337.5 L1480.0 1336.7 L1482.0 1335.8 L1484.0 1335.0 L1486.0 1334.1 L1488.0 1333.2 L1490.0 1332.3 L1492.0 1331.3 L1494.0 1330.3 L1496.0 1329.1 L1498.0 1327.8 L1500.0 1326.4 L1502.0 1324.8 L1504.0 1323.1 L1506.0 1321.2 L1508.0 1319.2 L1510.0 1316.8 L1512.0 1314.2 L1514.0 1311.2 L1516.0 1308.0 L1518.0 1304.4 L1520.0 1300.4 L1522.0 1295.8 L1524.0 1290.3 L1526.0 1284.3 L1528.0 1278.3 L1530.0 1272.8 L1532.0 1268.3 L1534.0 1264.3 L1536.0 1259.9 L1538.0 1254.3 L1540.0 1245.8 L1542.0 1234.5 L1544.0 1222.2 L1546.0 1210.0 L1548.0 1197.1 L1550.0 1184.1 L1552.0 1172.1 L1554.0 1161.0 L1556.0 1150.1 L1558.0 1138.7 L1560.0 1126.8 L1562.0 1114.3 L1564.0 1100.9 L1566.0 1085.4 L1568.0 1068.5 L1570.0 1053.6 L1572.0 1040.3 L1574.0 1027.8 L1576.0 1016.0 L1578.0 1006.9 L1580.0 999.4 L1582.0 993.5 L1584.0 989.6 L1586.0 986.5 L1588.0 985.0 L1590.0 986.0 L1592.0 988.9 L1594.0 992.2 L1596.0 995.4 L1598.0 999.1 L1600.0 1003.4 L1602.0 1008.4 L1604.0 1014.8 L1606.0 1023.4 L1608.0 1032.9 L1610.0 1042.7 L1612.0 1053.4 L1614.0 1064.9 L1616.0 1077.7 L1618.0 1091.0 L1620.0 1104.0 L1622.0 1117.1 L1624.0 1129.8 L1626.0 1141.5 L1628.0 1152.0 L1630.0 1161.8 L1632.0 1171.5 L1634.0 1181.5 L1636.0 1191.7 L1638.0 1202.0 L1640.0 1211.9 L1642.0 1221.2 L1644.0 1230.4 L1646.0 1239.2 L1648.0 1247.6 L1650.0 1255.4 L1652.0 1262.8 L1654.0 1269.9 L1656.0 1276.7 L1658.0 1283.2 L1660.0 1289.4 L1662.0 1295.3 L1664.0 1301.1 L1666.0 1306.7 L1668.0 1311.9 L1670.0 1316.7 L1672.0 1321.1 L1674.0 1325.2 L1676.0 1328.9 L1678.0 1332.1 L1680.0 1335.0 L1682.0 1337.7 L1684.0 1340.2 L1686.0 1342.5 L1688.0 1344.7 L1690.0 1346.7 L1692.0 1348.7 L1694.0 1350.6 L1696.0 1352.3 L1698.0 1354.0 L1700.0 1355.7 L1702.0 1357.3 L1704.0 1358.8 L1706.0 1360.3 L1708.0 1361.6 L1710.0 1362.8 L1712.0 1363.9 L1714.0 1365.0 L1716.0 1366.0 L1718.0 1366.9 L1720.0 1367.7 L1722.0 1368.4 L1724.0 1369.1 L1726.0 1369.7 L1728.0 1370.3 L1730.0 1370.9 L1732.0 1371.4 L1734.0 1372.0 L1736.0 1372.4 L1738.0 1372.9 L1740.0 1373.4 L1742.0 1373.8 L1744.0 1374.3 L1746.0 1374.7 L1748.0 1375.1 L1750.0 1375.5 L1752.0 1375.9 L1754.0 1376.3 L1756.0 1376.7 L1758.0 1377.1 L1760.0 1377.4 L1762.0 1377.8 L1764.0 1378.1 L1766.0 1378.4 L1768.0 1378.8 L1770.0 1379.1 L1772.0 1379.4 L1774.0 1379.7 L1776.0 1380.0 L1778.0 1380.3 L1780.0 1380.6 L1782.0 1380.8 L1784.0 1381.1 L1786.0 1381.4 L1788.0 1381.6 L1790.0 1381.8 L1792.0 1382.1 L1794.0 1382.3 L1796.0 1382.5 L1798.0 1382.7 L1800.0 1382.9 L1802.0 1383.1 L1804.0 1383.3 L1806.0 1383.5 L1808.0 1383.7 L1810.0 1383.9 L1812.0 1384.0 L1814.0 1384.1 L1816.0 1384.2 L1818.0 1384.3 L1820.0 1384.4 L1822.0 1384.5 L1824.0 1384.5 L1826.0 1384.6 L1828.0 1384.7 L1830.0 1384.7 L1832.0 1384.8 L1834.0 1384.8 L1836.0 1384.8 L1838.0 1384.8 L1840.0 1384.8 L1842.0 1384.8 L1844.0 1384.8 L1846.0 1384.8 L1848.0 1384.8 L1850.0 1384.8 L1852.0 1384.8 L1854.0 1384.8 L1856.0 1384.8 L1858.0 1384.8 L1860.0 1384.8 L1862.0 1384.8 L1864.0 1384.8 L1866.0 1384.8 L1868.0 1384.8 L1870.0 1384.7 L1872.0 1384.7 L1874.0 1384.6 L1876.0 1384.5 L1878.0 1384.4 L1880.0 1384.4 L1882.0 1384.3 L1884.0 1384.2 L1886.0 1384.2 L1888.0 1384.2 L1890.0 1384.1 L1892.0 1384.1 L1894.0 1384.1 L1896.0 1384.1 L1898.0 1384.0 L1900.0 1384.0 L1902.0 1384.0 L1904.0 1384.0 L1906.0 1383.9 L1908.0 1383.9 L1910.0 1383.9 L1912.0 1383.9 L1914.0 1383.9 L1916.0 1383.9 L1918.0 1383.9 L1920.0 1383.9 L1922.0 1383.9 L1924.0 1383.9 L1926.0 1383.9 L1928.0 1383.9 L1930.0 1383.9 L1932.0 1383.9 L1934.0 1383.9 L1936.0 1383.9 L1938.0 1383.9 L1940.0 1383.9 L1942.0 1383.9 L1944.0 1383.9 L1946.0 1383.9 L1948.0 1383.9 L1950.0 1383.9 L1952.0 1383.9 L1954.0 1383.9 L1956.0 1383.9 L1958.0 1383.9 L1960.0 1383.9 L1962.0 1383.9 L1964.0 1383.9 L1965.0 1383.9 L1975.0 1383.9"/>
<path stroke="#ff00ff" d="M216.0 1280.6 L226.0 1275.8 L228.0 1274.7 L230.0 1273.5 L232.0 1272.1 L234.0 1270.6 L236.0 1268.9 L238.0 1267.1 L240.0 1265.2 L242.0 1263.2 L244.0 1261.2 L246.0 1259.0 L248.0 1256.5 L250.0 1253.9 L252.0 1251.0 L254.0 1248.0 L256.0 1244.8 L258.0 1241.3 L260.0 1237.5 L262.0 1233.4 L264.0 1229.2 L266.0 1224.9 L268.0 1220.5 L270.0 1215.9 L272.0 1211.1 L274.0 1206.2 L276.0 1201.2 L278.0 1196.2 L280.0 1191.2 L282.0 1186.2 L284.0 1181.1 L286.0 1176.0 L288.0 1170.8 L290.0 1165.6 L292.0 1160.2 L294.0 1154.5 L296.0 1148.7 L298.0 1143.0 L300.0 1137.4 L302.0 1132.3 L304.0 1127.8 L306.0 1123.9 L308.0 1120.2 L310.0 1116.1 L312.0 1111.7 L314.0 1107.0 L316.0 1102.2 L318.0 1097.1 L320.0 1091.9 L322.0 1086.4 L324.0 1080.6 L326.0 1074.5 L328.0 1067.7 L330.0 1060.3 L332.0 1052.7 L334.0 1045.3 L336.0 1038.2 L338.0 1031.5 L340.0 1025.0 L342.0 1018.6 L344.0 1012.2 L346.0 1005.9 L348.0 999.5 L350.0 992.9 L352.0 986.1 L354.0 979.5 L356.0 973.0 L358.0 966.9 L360.0 961.3 L362.0 956.3 L364.0 951.5 L366.0 946.8 L368.0 941.6 L370.0 935.9 L372.0 930.1 L374.0 924.1 L376.0 918.3 L378.0 912.8 L380.0 907.2 L382.0 901.8 L384.0 896.2 L386.0 890.6 L388.0 884.7 L390.0 879.1 L392.0 873.7 L394.0 868.5 L396.0 863.4 L398.0 858.6 L400.0 853.8 L402.0 848.9 L404.0 843.9 L406.0 838.3 L408.0 832.3 L410.0 826.1 L412.0 820.1 L414.0 814.7 L416.0 809.8 L418.0 805.2 L420.0 800.7 L422.0 796.2 L424.0 791.6 L426.0 786.8 L428.0 782.0 L430.0 777.1 L432.0 772.0 L434.0 766.5 L436.0 760.7 L438.0 754.6 L440.0 748.3 L442.0 741.5 L444.0 734.3 L446.0 726.6 L448.0 718.2 L450.0 709.0 L452.0 698.6 L454.0 686.9 L456.0 672.3 L458.0 654.9 L460.0 640.1 L462.0 627.9 L464.0 615.7 L466.0 601.3 L468.0 584.9 L470.0 563.9 L472.0 533.8 L474.0 497.1 L476.0 471.0 L478.0 452.7 L480.0 440.5 L482.0 431.0 L484.0 422.3 L486.0 412.4 L488.0 401.4 L490.0 390.0 L492.0 378.6 L494.0 367.2 L496.0 356.5 L498.0 346.6 L500.0 336.9 L502.0 327.1 L504.0 317.1 L506.0 307.1 L508.0 296.9 L510.0 286.6 L512.0 275.6 L514.0 264.4 L516.0 253.5 L518.0 243.5 L520.0 234.2 L522.0 225.4 L524.0 216.8 L526.0 208.6 L528.0 203.3 L530.0 199.7 L532.0 197.3 L534.0 196.9 L536.0 198.9 L538.0 202.4 L540.0 206.7 L542.0 213.8 L544.0 222.1 L546.0 230.5 L548.0 240.0 L550.0 251.5 L552.0 266.6 L554.0 283.9 L556.0 302.7 L558.0 323.5 L560.0 346.1 L562.0 370.2 L564.0 396.0 L566.0 420.2 L568.0 441.2 L570.0 465.7 L572.0 496.0 L574.0 531.3 L576.0 548.6 L578.0 565.0 L580.0 593.2 L582.0 620.6 L584.0 643.9 L586.0 667.3 L588.0 689.9 L590.0 711.4 L592.0 734.5 L594.0 758.3 L596.0 779.3 L598.0 800.5 L600.0 822.3 L602.0 845.2 L604.0 868.3 L606.0 891.0 L608.0 910.5 L610.0 925.5 L612.0 941.4 L614.0 960.8 L616.0 980.3 L618.0 999.1 L620.0 1017.1 L622.0 1034.5 L624.0 1050.8 L626.0 1066.0 L628.0 1080.2 L630.0 1093.0 L632.0 1104.5 L634.0 1115.5 L636.0 1126.8 L638.0 1138.4 L640.0 1149.4 L642.0 1159.3 L644.0 1168.3 L646.0 1176.7 L648.0 1184.7 L650.0 1192.6 L652.0 1200.6 L654.0 1208.5 L656.0 1216.3 L658.0 1223.7 L660.0 1230.8 L662.0 1237.3 L664.0 1243.5 L666.0 1249.4 L668.0 1255.1 L670.0 1260.7 L672.0 1266.3 L674.0 1271.8 L676.0 1277.0 L678.0 1281.7 L680.0 1285.9 L682.0 1289.7 L684.0 1293.3 L686.0 1296.6 L688.0 1299.8 L690.0 1302.9 L692.0 1306.0 L694.0 1309.0 L696.0 1312.2 L698.0 1315.4 L700.0 1318.4 L702.0 1321.1 L704.0 1323.4 L706.0 1325.5 L708.0 1327.4 L710.0 1329.2 L712.0 1330.9 L714.0 1332.6 L716.0 1334.1 L718.0 1335.5 L720.0 1336.9 L722.0 1338.3 L724.0 1339.5 L726.0 1340.7 L728.0 1341.9 L730.0 1343.1 L732.0 1344.2 L734.0 1345.3 L736.0 1346.4 L738.0 1347.5 L740.0 1348.5 L742.0 1349.4 L744.0 1350.3 L746.0 1351.0 L748.0 1351.7 L750.0 1352.3 L752.0 1352.8 L754.0 1353.3 L756.0 1353.7 L758.0 1354.1 L760.0 1354.5 L762.0 1354.8 L764.0 1355.2 L766.0 1355.5 L768.0 1355.7 L770.0 1356.0 L772.0 1356.2 L774.0 1356.4 L776.0 1356.6 L778.0 1356.7 L780.0 1356.9 L782.0 1357.0 L784.0 1357.1 L786.0 1357.2 L788.0 1357.3 L790.0 1357.4 L792.0 1357.5 L794.0 1357.6 L796.0 1357.7 L798.0 1357.8 L800.0 1357.9 L802.0 1358.1 L804.0 1358.2 L806.0 1358.3 L808.0 1358.5 L810.0 1358.6 L812.0 1358.7 L814.0 1358.8 L816.0 1358.9 L818.0 1359.0 L820.0 1359.0 L822.0 1359.0 L824.0 1359.0 L826.0 1359.0 L828.0 1358.9 L830.0 1358.9 L832.0 1358.8 L834.0 1358.6 L836.0 1358.5 L838.0 1358.4 L840.0 1358.2 L842.0 1358.1 L844.0 1357.9 L846.0 1357.7 L848.0 1357.4 L850.0 1357.1 L852.0 1356.7 L854.0 1356.2 L856.0 1355.6 L858.0 1355.0 L860.0 1354.2 L862.0 1353.2 L864.0 1352.0 L866.0 1350.8 L868.0 1349.4 L870.0 1348.0 L872.0 1346.4 L874.0 1344.6 L876.0 1342.6 L878.0 1340.5 L880.0 1338.3 L882.0 1336.0 L884.0 1333.6 L886.0 1330.9 L888.0 1328.1 L890.0 1325.1 L892.0 1322.0 L894.0 1318.6 L896.0 1314.8 L898.0 1310.7 L900.0 1306.8 L902.0 1303.2 L904.0 1300.0 L906.0 1296.9 L908.0 1294.0 L910.0 1291.2 L912.0 1288.5 L914.0 1286.0 L916.0 1283.4 L918.0 1280.9 L920.0 1278.5 L922.0 1276.2 L924.0 1274.3 L926.0 1272.6 L928.0 1271.2 L930.0 1269.8 L932.0 1268.6 L934.0 1267.5 L936.0 1266.7 L938.0 1266.0 L940.0 1265.4 L942.0 1265.0 L944.0 1265.0 L946.0 1265.3 L948.0 1265.9 L950.0 1266.6 L952.0 1267.6 L954.0 1269.1 L956.0 1270.7 L958.0 1272.6 L960.0 1274.5 L962.0 1276.5 L964.0 1278.6 L966.0 1281.0 L968.0 1283.6 L970.0 1286.3 L972.0 1289.0 L974.0 1291.8 L976.0 1294.8 L978.0 1298.0 L980.0 1301.3 L982.0 1304.5 L984.0 1307.7 L986.0 1310.8 L988.0 1313.8 L990.0 1316.9 L992.0 1319.9 L994.0 1322.9 L996.0 1325.8 L998.0 1328.5 L1000.0 1331.3 L1002.0 1334.1 L1004.0 1336.7 L1006.0 1339.2 L1008.0 1341.4 L1010.0 1343.5 L1012.0 1345.5 L1014.0 1347.5 L1016.0 1349.2 L1018.0 1350.7 L1020.0 1351.8 L1022.0 1352.6 L1024.0 1353.4 L1026.0 1354.1 L1028.0 1354.6 L1030.0 1355.0 L1032.0 1355.3 L1034.0 1355.4 L1036.0 1355.5 L1038.0 1355.6 L1040.0 1355.7 L1042.0 1355.8 L1044.0 1355.9 L1046.0 1356.1 L1048.0 1356.2 L1050.0 1356.3 L1052.0 1356.5 L1054.0 1356.7 L1056.0 1356.9 L1058.0 1357.3 L1060.0 1357.8 L1062.0 1358.3 L1064.0 1359.0 L1066.0 1359.6 L1068.0 1360.3 L1070.0 1361.1 L1072.0 1362.0 L1074.0 1363.0 L1076.0 1364.0 L1078.0 1364.9 L1080.0 1365.8 L1082.0 1366.6 L1084.0 1367.5 L1086.0 1368.3 L1088.0 1369.1 L1090.0 1369.9 L1092.0 1370.6 L1094.0 1371.3 L1096.0 1372.0 L1098.0 1372.7 L1100.0 1373.3 L1102.0 1373.8 L1104.0 1374.4 L1106.0 1375.0 L1108.0 1375.5 L1110.0 1376.1 L1112.0 1376.4 L1114.0 1376.7 L1116.0 1376.7 L1118.0 1376.6 L1120.0 1376.6 L1122.0 1376.6 L1124.0 1376.5 L1126.0 1376.4 L1128.0 1376.3 L1130.0 1376.2 L1132.0 1376.1 L1134.0 1376.0 L1136.0 1375.9 L1138.0 1375.7 L1140.0 1375.6 L1142.0 1375.5 L1144.0 1375.4 L1146.0 1375.2 L1148.0 1375.1 L1150.0 1375.0 L1152.0 1374.8 L1154.0 1374.7 L1156.0 1374.6 L1158.0 1374.4 L1160.0 1374.3 L1162.0 1374.2 L1164.0 1374.1 L1166.0 1374.0 L1168.0 1374.0 L1170.0 1374.0 L1172.0 1374.0 L1174.0 1374.1 L1176.0 1374.3 L1178.0 1374.5 L1180.0 1374.7 L1182.0 1374.9 L1184.0 1375.1 L1186.0 1375.4 L1188.0 1375.7 L1190.0 1375.9 L1192.0 1376.1 L1194.0 1376.4 L1196.0 1376.6 L1198.0 1376.9 L1200.0 1377.2 L1202.0 1377.4 L1204.0 1377.7 L1206.0 1378.0 L1208.0 1378.3 L1210.0 1378.6 L1212.0 1378.9 L1214.0 1379.2 L1216.0 1379.4 L1218.0 1379.6 L1220.0 1379.9 L1222.0 1380.1 L1224.0 1380.4 L1226.0 1380.6 L1228.0 1380.9 L1230.0 1381.1 L1232.0 1381.3 L1234.0 1381.5 L1236.0 1381.7 L1238.0 1381.8 L1240.0 1381.9 L1242.0 1382.0 L1244.0 1382.1 L1246.0 1382.2 L1248.0 1382.3 L1250.0 1382.3 L1252.0 1382.4 L1254.0 1382.4 L1256.0 1382.5 L1258.0 1382.5 L1260.0 1382.6 L1262.0 1382.6 L1264.0 1382.6 L1266.0 1382.6 L1268.0 1382.5 L1270.0 1382.4 L1272.0 1382.3 L1274.0 1382.2 L1276.0 1382.0 L1278.0 1381.9 L1280.0 1381.7 L1282.0 1381.6 L1284.0 1381.4 L1286.0 1381.2 L1288.0 1380.9 L1290.0 1380.6 L1292.0 1380.3 L1294.0 1380.0 L1296.0 1379.7 L1298.0 1379.3 L1300.0 1379.0 L1302.0 1378.7 L1304.0 1378.4 L1306.0 1378.1 L1308.0 1377.8 L1310.0 1377.5 L1312.0 1377.1 L1314.0 1376.7 L1316.0 1376.2 L1318.0 1375.6 L1320.0 1374.9 L1322.0 1374.0 L1324.0 1372.9 L1326.0 1371.8 L1328.0 1370.7 L1330.0 1369.5 L1332.0 1368.1 L1334.0 1366.6 L1336.0 1365.0 L1338.0 1363.5 L1340.0 1362.1 L1342.0 1361.0 L1344.0 1359.9 L1346.0 1359.0 L1348.0 1358.1 L1350.0 1357.3 L1352.0 1356.5 L1354.0 1355.9 L1356.0 1355.4 L1358.0 1354.8 L1360.0 1354.3 L1362.0 1353.9 L1364.0 1353.6 L1366.0 1353.5 L1368.0 1353.5 L1370.0 1353.5 L1372.0 1353.5 L1374.0 1353.5 L1376.0 1353.5 L1378.0 1353.6 L1380.0 1353.7 L1382.0 1353.9 L1384.0 1354.2 L1386.0 1354.5 L1388.0 1354.9 L1390.0 1355.2 L1392.0 1355.6 L1394.0 1356.0 L1396.0 1356.4 L1398.0 1356.9 L1400.0 1357.4 L1402.0 1357.9 L1404.0 1358.4 L1406.0 1359.0 L1408.0 1359.6 L1410.0 1360.1 L1412.0 1360.6 L1414.0 1361.0 L1416.0 1361.4 L1418.0 1361.7 L1420.0 1362.0 L1422.0 1362.3 L1424.0 1362.6 L1426.0 1362.9 L1428.0 1363.2 L1430.0 1363.5 L1432.0 1363.7 L1434.0 1363.9 L1436.0 1364.0 L1438.0 1364.0 L1440.0 1363.8 L1442.0 1363.7 L1444.0 1363.5 L1446.0 1363.2 L1448.0 1363.0 L1450.0 1362.9 L1452.0 1362.7 L1454.0 1362.5 L1456.0 1362.3 L1458.0 1362.1 L1460.0 1361.8 L1462.0 1361.6 L1464.0 1361.3 L1466.0 1360.9 L1468.0 1360.6 L1470.0 1360.2 L1472.0 1359.9 L1474.0 1359.6 L1476.0 1359.3 L1478.0 1359.0 L1480.0 1358.6 L1482.0 1358.3 L1484.0 1357.9 L1486.0 1357.5 L1488.0 1357.1 L1490.0 1356.6 L1492.0 1356.1 L1494.0 1355.4 L1496.0 1354.7 L1498.0 1353.7 L1500.0 1352.4 L1502.0 1350.9 L1504.0 1349.2 L1506.0 1347.3 L1508.0 1345.3 L1510.0 1342.8 L1512.0 1339.9 L1514.0 1336.7 L1516.0 1333.5 L1518.0 1330.4 L1520.0 1327.6 L1522.0 1325.0 L1524.0 1321.9 L1526.0 1318.1 L1528.0 1312.2 L1530.0 1304.0 L1532.0 1295.0 L1534.0 1286.1 L1536.0 1276.8 L1538.0 1266.7 L1540.0 1256.0 L1542.0 1244.1 L1544.0 1231.0 L1546.0 1217.5 L1548.0 1203.6 L1550.0 1189.3 L1552.0 1175.2 L1554.0 1161.6 L1556.0 1147.9 L1558.0 1133.6 L1560.0 1118.5 L1562.0 1102.8 L1564.0 1086.3 L1566.0 1069.1 L1568.0 1052.5 L1570.0 1036.7 L1572.0 1022.2 L1574.0 1009.8 L1576.0 1000.2 L1578.0 992.1 L1580.0 986.0 L1582.0 981.1 L1584.0 977.5 L1586.0 977.0 L1588.0 977.0 L1590.0 977.0 L1592.0 977.5 L1594.0 981.1 L1596.0 986.0 L1598.0 992.7 L1600.0 1001.4 L1602.0 1010.7 L1604.0 1020.8 L1606.0 1031.8 L1608.0 1043.6 L1610.0 1056.3 L1612.0 1069.0 L1614.0 1082.0 L1616.0 1094.9 L1618.0 1107.8 L1620.0 1120.7 L1622.0 1133.6 L1624.0 1146.4 L1626.0 1159.1 L1628.0 1171.7 L1630.0 1184.2 L1632.0 1196.9 L1634.0 1209.2 L1636.0 1220.6 L1638.0 1231.4 L1640.0 1241.7 L1642.0 1251.5 L1644.0 1260.8 L1646.0 1269.9 L1648.0 1278.7 L1650.0 1286.8 L1652.0 1294.1 L1654.0 1300.9 L1656.0 1307.3 L1658.0 1313.1 L1660.0 1318.3 L1662.0 1322.8 L1664.0 1326.8 L1666.0 1331.3 L1668.0 1336.7 L1670.0 1342.7 L1672.0 1348.3 L1674.0 1352.7 L1676.0 1356.3 L1678.0 1359.6 L1680.0 1362.5 L1682.0 1365.2 L1684.0 1367.6 L1686.0 1369.8 L1688.0 1371.8 L1690.0 1373.7 L1692.0 1375.5 L1694.0 1377.1 L1696.0 1378.6 L1698.0 1379.9 L1700.0 1381.3 L1702.0 1382.5 L1704.0 1383.7 L1706.0 1384.7 L1708.0 1385.7 L1710.0 1386.5 L1712.0 1387.2 L1714.0 1387.9 L1716.0 1388.5 L1718.0 1389.1 L1720.0 1389.6 L1722.0 1390.2 L1724.0 1390.7 L1726.0 1391.2 L1728.0 1391.6 L1730.0 1392.1 L1732.0 1392.6 L1734.0 1393.0 L1736.0 1393.4 L1738.0 1393.8 L1740.0 1394.2 L1742.0 1394.5 L1744.0 1394.9 L1746.0 1395.2 L1748.0 1395.4 L1750.0 1395.7 L1752.0 1395.9 L1754.0 1396.2 L1756.0 1396.4 L1758.0 1396.6 L1760.0 1396.8 L1762.0 1397.1 L1764.0 1397.3 L1766.0 1397.5 L1768.0 1397.7 L1770.0 1397.9 L1772.0 1398.2 L1774.0 1398.4 L1776.0 1398.6 L1778.0 1398.9 L1780.0 1399.1 L1782.0 1399.3 L1784.0 1399.6 L1786.0 1399.8 L1788.0 1400.0 L1790.0 1400.2 L1792.0 1400.3 L1794.0 1400.5 L1796.0 1400.7 L1798.0 1400.8 L1800.0 1401.0 L1802.0 1401.1 L1804.0 1401.2 L1806.0 1401.4 L1808.0 1401.5 L1810.0 1401.6 L1812.0 1401.7 L1814.0 1401.9 L1816.0 1402.0 L1818.0 1402.1 L1820.0 1402.2 L1822.0 1402.3 L1824.0 1402.4 L1826.0 1402.5 L1828.0 1402.6 L1830.0 1402.6 L1832.0 1402.7 L1834.0 1402.8 L1836.0 1402.8 L1838.0 1402.9 L1840.0 1402.9 L1842.0 1402.9 L1844.0 1403.0 L1846.0 1403.0 L1848.0 1403.0 L1850.0 1403.0 L1852.0 1403.1 L1854.0 1403.1 L1856.0 1403.1 L1858.0 1403.1 L1860.0 1403.1 L1862.0 1403.1 L1864.0 1403.1 L1866.0 1403.1 L1868.0 1403.1 L1870.0 1403.0 L1872.0 1402.9 L1874.0 1402.9 L1876.0 1402.8 L1878.0 1402.7 L1880.0 1402.7 L1882.0 1402.6 L1884.0 1402.5 L1886.0 1402.5 L1888.0 1402.4 L1890.0 1402.4 L1892.0 1402.4 L1894.0 1402.3 L1896.0 1402.3 L1898.0 1402.3 L1900.0 1402.2 L1902.0 1402.2 L1904.0 1402.2 L1906.0 1402.1 L1908.0 1402.1 L1910.0 1402.1 L1912.0 1402.1 L1914.0 1402.1 L1916.0 1402.1 L1918.0 1402.0 L1920.0 1402.0 L1922.0 1402.0 L1924.0 1402.0 L1926.0 1402.0 L1928.0 1402.0 L1930.0 1402.0 L1932.0 1402.0 L1934.0 1402.0 L1936.0 1402.0 L1938.0 1402.0 L1940.0 1402.0 L1942.0 1402.0 L1944.0 1402.0 L1946.0 1402.0 L1948.0 1402.0 L1950.0 1402.0 L1952.0 1402.0 L1954.0 1402.0 L1956.0 1402.0 L1958.0 1402.0 L1960.0 1402.0 L1962.0 1402.0 L1964.0 1402.0 L1965.0 1402.0 L1975.0 1402.0"/>
</g></g>
<g id="main-peaks" font-size="57.2" letter-spacing="3.2" text-anchor="middle">
<text x="544.3" y="148.5">396</text>
<text x="946.8" y="1130.5">500</text>
<text x="1594.6" y="875.5">658</text>
</g>
<g id="inset-axes" stroke="#000" fill="none" shape-rendering="crispEdges">
<path d="M779 92.2 V758" stroke-width="4"/>
<path d="M777 756 H1801" stroke-width="4"/>
<path d="M763.6 746.6 H779 M763.6 653.3 H779 M763.6 560.0 H779 M763.6 466.7 H779 M763.6 373.4 H779 M763.6 280.1 H779 M763.6 186.8 H779 M763.6 93.5 H779 M770.6 700.0 H779 M770.6 606.6 H779 M770.6 513.4 H779 M770.6 420.1 H779 M770.6 326.8 H779 M770.6 233.5 H779 M770.6 140.2 H779" stroke-width="3" stroke-linecap="round"/>
<path d="M779.0 756 V769 M906.4 756 V769 M1033.8 756 V769 M1161.2 756 V769 M1288.6 756 V769 M1416.0 756 V769 M1543.4 756 V769 M1670.8 756 V769 M1798.2 756 V769 M842.7 756 V762.5 M970.1 756 V762.5 M1097.5 756 V762.5 M1224.9 756 V762.5 M1352.3 756 V762.5 M1479.7 756 V762.5 M1607.1 756 V762.5 M1734.5 756 V762.5" stroke-width="3.6" stroke-linecap="round"/>
</g>
<g id="inset-ticklabels" font-size="36.3" letter-spacing="2.5">
<text x="754" y="755.6" text-anchor="end">0</text>
<text x="754" y="662.3" text-anchor="end">10</text>
<text x="754" y="569.0" text-anchor="end">20</text>
<text x="754" y="475.7" text-anchor="end">30</text>
<text x="754" y="382.4" text-anchor="end">40</text>
<text x="754" y="289.1" text-anchor="end">50</text>
<text x="754" y="195.8" text-anchor="end">60</text>
<text x="754" y="102.5" text-anchor="end">70</text>
<text x="778.4" y="806.1" text-anchor="middle">600</text>
<text x="905.8" y="806.1" text-anchor="middle">625</text>
<text x="1033.2" y="806.1" text-anchor="middle">650</text>
<text x="1160.6" y="806.1" text-anchor="middle">675</text>
<text x="1288.0" y="806.1" text-anchor="middle">700</text>
<text x="1415.4" y="806.1" text-anchor="middle">725</text>
<text x="1542.8" y="806.1" text-anchor="middle">750</text>
<text x="1670.2" y="806.1" text-anchor="middle">775</text>
<text x="1797.6" y="806.1" text-anchor="middle">800</text>
</g>
<text id="inset-xtitle" x="1300.5" y="862.8" font-size="41.3" letter-spacing="3" text-anchor="middle">λ, nm</text>
<text id="inset-ytitle" transform="translate(659.9 409.5) rotate(-90)" font-size="41.5" letter-spacing="1" text-anchor="middle">I, a.u.</text>
<clipPath id="iclip"><rect x="779" y="60" width="1020.4" height="700"/></clipPath>
<g id="inset-curves" clip-path="url(#iclip)"><g fill="none" stroke-width="9.7" stroke-linejoin="round" stroke-linecap="butt" transform="scale(1 0.930)" shape-rendering="crispEdges">
<path stroke="#000000" d="M768.9 792.3 L778.9 792.3 L784.0 790.9 L789.0 790.1 L794.1 791.0 L799.2 791.4 L804.3 791.1 L809.4 791.0 L814.5 790.2 L819.6 788.7 L824.7 787.9 L829.8 788.2 L834.9 788.5 L840.0 787.5 L845.1 785.1 L850.2 784.3 L855.3 785.8 L860.4 787.2 L865.5 786.9 L870.6 786.4 L875.7 785.9 L880.8 784.7 L885.9 784.1 L891.0 784.1 L896.1 783.0 L901.2 781.4 L906.3 780.1 L911.4 779.5 L916.4 779.2 L921.5 778.2 L926.6 776.1 L931.7 773.5 L936.8 771.9 L941.9 773.0 L947.0 771.8 L952.1 769.6 L957.2 767.5 L962.3 763.9 L967.4 758.9 L972.5 754.0 L977.6 746.1 L982.7 733.5 L987.8 719.0 L992.9 707.6 L998.0 688.6 L1003.1 670.6 L1008.2 651.4 L1013.3 621.2 L1018.4 587.0 L1023.5 549.4 L1028.6 506.6 L1033.7 464.2 L1038.8 420.2 L1043.8 374.9 L1048.9 330.3 L1054.0 280.2 L1059.1 235.4 L1064.2 197.1 L1069.3 166.5 L1074.4 146.8 L1079.5 129.8 L1084.6 117.9 L1089.7 111.9 L1094.8 115.4 L1099.9 119.2 L1105.0 143.9 L1110.1 166.2 L1115.2 198.0 L1120.3 235.1 L1125.4 273.8 L1130.5 308.3 L1135.6 335.7 L1140.7 368.7 L1145.8 398.4 L1150.9 430.2 L1156.0 452.8 L1161.1 473.0 L1166.2 495.7 L1171.2 516.8 L1176.3 536.2 L1181.4 553.8 L1186.5 569.3 L1191.6 584.8 L1196.7 596.9 L1201.8 603.5 L1206.9 609.1 L1212.0 615.2 L1217.1 621.0 L1222.2 625.6 L1227.3 630.2 L1232.4 635.1 L1237.5 640.6 L1242.6 645.1 L1247.7 647.6 L1252.8 652.0 L1257.9 656.8 L1263.0 659.8 L1268.1 660.9 L1273.2 662.0 L1278.3 662.5 L1283.4 662.3 L1288.5 663.8 L1293.6 667.7 L1298.6 670.4 L1303.7 672.7 L1308.8 672.4 L1313.9 670.8 L1319.0 672.4 L1324.1 674.4 L1329.2 676.3 L1334.3 679.5 L1339.4 678.6 L1344.5 677.2 L1349.6 678.3 L1354.7 680.0 L1359.8 682.3 L1364.9 686.3 L1370.0 686.0 L1375.1 686.0 L1380.2 689.5 L1385.3 689.4 L1390.4 690.0 L1395.5 689.1 L1400.6 690.3 L1405.7 692.7 L1410.8 686.8 L1415.9 685.3 L1421.0 687.8 L1426.0 688.2 L1431.1 685.2 L1436.2 685.5 L1441.3 686.9 L1446.4 682.9 L1451.5 681.0 L1456.6 681.3 L1461.7 682.1 L1466.8 680.4 L1471.9 679.8 L1477.0 680.9 L1482.1 685.7 L1487.2 687.2 L1492.3 691.3 L1497.4 697.4 L1502.5 699.1 L1507.6 699.2 L1512.7 704.4 L1517.8 710.4 L1522.9 713.3 L1528.0 721.5 L1533.1 728.3 L1538.2 731.7 L1543.3 732.8 L1548.4 736.3 L1553.4 740.6 L1558.5 745.4 L1563.6 750.2 L1568.7 753.5 L1573.8 754.9 L1578.9 755.5 L1584.0 757.2 L1589.1 760.5 L1594.2 764.0 L1599.3 767.2 L1604.4 769.8 L1609.5 771.9 L1614.6 773.5 L1619.7 774.3 L1624.8 774.3 L1629.9 774.1 L1635.0 774.2 L1640.1 774.7 L1645.2 775.8 L1650.3 777.7 L1655.4 778.4 L1660.5 778.8 L1665.6 780.1 L1670.7 781.4 L1675.8 781.3 L1680.8 781.4 L1685.9 782.2 L1691.0 783.4 L1696.1 785.1 L1701.2 785.8 L1706.3 785.9 L1711.4 785.4 L1716.5 784.3 L1721.6 784.4 L1726.7 786.0 L1731.8 787.1 L1736.9 786.6 L1742.0 786.8 L1747.1 787.5 L1752.2 787.1 L1757.3 787.4 L1762.4 788.7 L1767.5 789.6 L1772.6 790.4 L1777.7 791.7 L1782.8 792.0 L1787.9 792.6 L1793.0 793.7 L1798.1 793.0 L1799.9 791.9 L1809.9 791.9"/>
<path stroke="#ff0000" d="M768.9 798.0 L778.9 798.2 L784.0 797.7 L789.0 797.6 L794.1 798.0 L799.2 797.9 L804.3 798.2 L809.4 798.4 L814.5 799.2 L819.6 800.4 L824.7 799.6 L829.8 799.4 L834.9 799.4 L840.0 798.8 L845.1 799.3 L850.2 799.6 L855.3 799.2 L860.4 798.2 L865.5 798.3 L870.6 799.6 L875.7 799.9 L880.8 799.6 L885.9 799.9 L891.0 799.5 L896.1 798.1 L901.2 797.0 L906.3 797.1 L911.4 797.2 L916.4 797.5 L921.5 798.5 L926.6 799.2 L931.7 799.5 L936.8 799.5 L941.9 798.4 L947.0 796.9 L952.1 795.0 L957.2 792.7 L962.3 791.0 L967.4 789.4 L972.5 787.1 L977.6 785.0 L982.7 783.6 L987.8 781.9 L992.9 778.3 L998.0 773.4 L1003.1 768.2 L1008.2 762.9 L1013.3 754.4 L1018.4 743.7 L1023.5 733.7 L1028.6 721.9 L1033.7 706.5 L1038.8 688.9 L1043.8 669.5 L1048.9 665.4 L1054.0 642.3 L1059.1 617.0 L1064.2 594.4 L1069.3 579.1 L1074.4 566.1 L1079.5 552.3 L1084.6 537.0 L1089.7 520.6 L1094.8 507.9 L1099.9 504.9 L1105.0 506.3 L1110.1 503.6 L1115.2 507.1 L1120.3 518.3 L1125.4 530.4 L1130.5 544.5 L1135.6 559.5 L1140.7 573.6 L1145.8 589.9 L1150.9 605.5 L1156.0 616.6 L1161.1 628.3 L1166.2 641.0 L1171.2 652.8 L1176.3 661.2 L1181.4 668.5 L1186.5 677.6 L1191.6 686.2 L1196.7 693.6 L1201.8 700.1 L1206.9 705.2 L1212.0 709.1 L1217.1 714.3 L1222.2 719.6 L1227.3 722.4 L1232.4 724.0 L1237.5 726.8 L1242.6 729.5 L1247.7 731.4 L1252.8 730.0 L1257.9 729.5 L1263.0 732.2 L1268.1 734.2 L1273.2 735.3 L1278.3 735.6 L1283.4 734.0 L1288.5 733.3 L1293.6 737.0 L1298.6 737.0 L1303.7 735.8 L1308.8 736.6 L1313.9 736.3 L1319.0 737.1 L1324.1 739.2 L1329.2 738.7 L1334.3 736.8 L1339.4 735.1 L1344.5 734.3 L1349.6 736.1 L1354.7 740.5 L1359.8 740.4 L1364.9 737.3 L1370.0 738.4 L1375.1 738.4 L1380.2 737.4 L1385.3 738.5 L1390.4 738.5 L1395.5 736.7 L1400.6 735.7 L1405.7 735.7 L1410.8 734.0 L1415.9 730.8 L1421.0 727.9 L1426.0 728.4 L1431.1 728.1 L1436.2 723.3 L1441.3 722.2 L1446.4 722.2 L1451.5 719.3 L1456.6 717.6 L1461.7 717.4 L1466.8 718.8 L1471.9 719.1 L1477.0 720.3 L1482.1 722.1 L1487.2 723.4 L1492.3 723.2 L1497.4 723.4 L1502.5 727.5 L1507.6 733.2 L1512.7 734.1 L1517.8 736.9 L1522.9 741.6 L1528.0 743.8 L1533.1 748.5 L1538.2 751.0 L1543.3 752.7 L1548.4 755.9 L1553.4 758.7 L1558.5 760.9 L1563.6 764.2 L1568.7 766.7 L1573.8 767.1 L1578.9 769.6 L1584.0 772.7 L1589.1 772.0 L1594.2 771.8 L1599.3 774.8 L1604.4 776.5 L1609.5 779.2 L1614.6 782.7 L1619.7 783.4 L1624.8 783.3 L1629.9 785.1 L1635.0 786.1 L1640.1 786.6 L1645.2 787.9 L1650.3 788.9 L1655.4 789.4 L1660.5 789.3 L1665.6 789.5 L1670.7 790.8 L1675.8 791.3 L1680.8 790.4 L1685.9 790.0 L1691.0 790.3 L1696.1 791.4 L1701.2 792.4 L1706.3 792.1 L1711.4 791.4 L1716.5 791.9 L1721.6 793.0 L1726.7 793.0 L1731.8 792.5 L1736.9 792.8 L1742.0 792.5 L1747.1 791.7 L1752.2 792.2 L1757.3 793.2 L1762.4 793.6 L1767.5 793.7 L1772.6 794.0 L1777.7 794.3 L1782.8 793.9 L1787.9 794.0 L1793.0 794.9 L1798.1 795.4 L1799.9 795.4 L1809.9 795.4"/>
<path stroke="#00ff00" d="M768.9 793.9 L778.9 793.5 L784.0 793.8 L789.0 794.0 L794.1 794.4 L799.2 794.3 L804.3 794.2 L809.4 794.3 L814.5 793.5 L819.6 792.0 L824.7 791.0 L829.8 791.3 L834.9 792.0 L840.0 792.4 L845.1 792.6 L850.2 792.5 L855.3 792.8 L860.4 793.6 L865.5 793.1 L870.6 792.0 L875.7 792.1 L880.8 793.5 L885.9 793.6 L891.0 792.7 L896.1 793.1 L901.2 793.3 L906.3 793.0 L911.4 794.2 L916.4 794.9 L921.5 794.1 L926.6 794.8 L931.7 795.3 L936.8 793.6 L941.9 791.1 L947.0 790.6 L952.1 790.1 L957.2 788.3 L962.3 785.9 L967.4 784.7 L972.5 783.9 L977.6 782.8 L982.7 781.2 L987.8 778.3 L992.9 775.2 L998.0 771.6 L1003.1 765.2 L1008.2 755.9 L1013.3 747.2 L1018.4 739.0 L1023.5 727.3 L1028.6 712.9 L1033.7 696.6 L1038.8 679.0 L1043.8 661.8 L1048.9 648.7 L1054.0 634.2 L1059.1 607.7 L1064.2 581.6 L1069.3 566.1 L1074.4 551.0 L1079.5 532.8 L1084.6 526.0 L1089.7 524.6 L1094.8 516.9 L1099.9 521.8 L1105.0 527.4 L1110.1 532.6 L1115.2 545.8 L1120.3 567.3 L1125.4 590.1 L1130.5 608.5 L1135.6 626.2 L1140.7 643.2 L1145.8 653.2 L1150.9 664.1 L1156.0 672.4 L1161.1 680.6 L1166.2 693.9 L1171.2 706.2 L1176.3 716.9 L1181.4 726.3 L1186.5 733.3 L1191.6 739.8 L1196.7 744.7 L1201.8 747.7 L1206.9 748.8 L1212.0 750.4 L1217.1 753.9 L1222.2 756.3 L1227.3 756.6 L1232.4 757.2 L1237.5 758.9 L1242.6 760.7 L1247.7 763.0 L1252.8 761.3 L1257.9 760.2 L1263.0 761.2 L1268.1 760.8 L1273.2 760.6 L1278.3 762.2 L1283.4 762.2 L1288.5 762.2 L1293.6 763.8 L1298.6 762.9 L1303.7 761.3 L1308.8 763.0 L1313.9 763.8 L1319.0 764.1 L1324.1 764.3 L1329.2 766.2 L1334.3 768.4 L1339.4 766.1 L1344.5 765.4 L1349.6 765.8 L1354.7 765.8 L1359.8 765.9 L1364.9 768.5 L1370.0 767.9 L1375.1 766.0 L1380.2 766.0 L1385.3 769.5 L1390.4 769.1 L1395.5 766.1 L1400.6 763.5 L1405.7 762.1 L1410.8 761.7 L1415.9 759.9 L1421.0 759.6 L1426.0 761.3 L1431.1 755.8 L1436.2 752.8 L1441.3 751.8 L1446.4 752.4 L1451.5 753.2 L1456.6 751.1 L1461.7 749.3 L1466.8 750.0 L1471.9 750.0 L1477.0 749.1 L1482.1 748.9 L1487.2 749.7 L1492.3 751.9 L1497.4 754.4 L1502.5 755.6 L1507.6 756.2 L1512.7 759.8 L1517.8 763.1 L1522.9 764.6 L1528.0 766.7 L1533.1 768.9 L1538.2 770.1 L1543.3 771.3 L1548.4 772.8 L1553.4 774.1 L1558.5 776.7 L1563.6 779.4 L1568.7 779.8 L1573.8 780.4 L1578.9 782.4 L1584.0 784.1 L1589.1 784.8 L1594.2 784.6 L1599.3 784.6 L1604.4 785.8 L1609.5 787.6 L1614.6 788.4 L1619.7 787.8 L1624.8 788.1 L1629.9 788.7 L1635.0 788.9 L1640.1 789.8 L1645.2 790.6 L1650.3 790.6 L1655.4 791.6 L1660.5 792.3 L1665.6 792.2 L1670.7 793.0 L1675.8 793.1 L1680.8 793.1 L1685.9 793.8 L1691.0 793.7 L1696.1 793.3 L1701.2 793.0 L1706.3 793.0 L1711.4 793.3 L1716.5 794.1 L1721.6 794.7 L1726.7 794.6 L1731.8 794.7 L1736.9 794.9 L1742.0 795.3 L1747.1 795.8 L1752.2 796.3 L1757.3 795.5 L1762.4 794.4 L1767.5 794.8 L1772.6 795.7 L1777.7 796.5 L1782.8 796.9 L1787.9 797.3 L1793.0 797.1 L1798.1 796.3 L1799.9 796.6 L1809.9 796.6"/>
<path stroke="#0000ff" d="M768.9 798.7 L778.9 798.8 L784.0 799.1 L789.0 798.3 L794.1 797.7 L799.2 798.1 L804.3 798.4 L809.4 798.8 L814.5 799.5 L819.6 800.0 L824.7 799.8 L829.8 799.2 L834.9 799.1 L840.0 799.7 L845.1 800.1 L850.2 800.5 L855.3 800.9 L860.4 800.7 L865.5 799.5 L870.6 798.4 L875.7 799.1 L880.8 801.0 L885.9 802.1 L891.0 801.8 L896.1 800.7 L901.2 800.6 L906.3 801.9 L911.4 802.5 L916.4 801.9 L921.5 801.1 L926.6 800.4 L931.7 801.1 L936.8 801.5 L941.9 800.0 L947.0 799.2 L952.1 799.0 L957.2 797.8 L962.3 796.2 L967.4 795.3 L972.5 794.6 L977.6 793.4 L982.7 792.3 L987.8 790.7 L992.9 789.3 L998.0 788.2 L1003.1 786.2 L1008.2 784.4 L1013.3 781.9 L1018.4 777.4 L1023.5 771.6 L1028.6 766.0 L1033.7 761.9 L1038.8 760.8 L1043.8 758.7 L1048.9 753.6 L1054.0 750.8 L1059.1 749.3 L1064.2 745.7 L1069.3 745.8 L1074.4 749.3 L1079.5 746.0 L1084.6 743.9 L1089.7 744.4 L1094.8 745.9 L1099.9 748.1 L1105.0 750.7 L1110.1 752.4 L1115.2 754.7 L1120.3 756.9 L1125.4 757.6 L1130.5 760.2 L1135.6 765.1 L1140.7 768.5 L1145.8 769.5 L1150.9 769.8 L1156.0 770.9 L1161.1 772.1 L1166.2 773.3 L1171.2 774.4 L1176.3 775.4 L1181.4 776.5 L1186.5 777.7 L1191.6 778.4 L1196.7 779.3 L1201.8 779.9 L1206.9 780.6 L1212.0 782.8 L1217.1 783.9 L1222.2 783.0 L1227.3 782.7 L1232.4 784.0 L1237.5 785.3 L1242.6 785.6 L1247.7 785.7 L1252.8 786.5 L1257.9 787.2 L1263.0 786.8 L1268.1 784.5 L1273.2 784.5 L1278.3 785.8 L1283.4 785.9 L1288.5 785.3 L1293.6 784.6 L1298.6 785.5 L1303.7 786.2 L1308.8 787.2 L1313.9 788.1 L1319.0 787.8 L1324.1 785.7 L1329.2 783.8 L1334.3 784.3 L1339.4 785.3 L1344.5 784.2 L1349.6 782.5 L1354.7 782.3 L1359.8 781.5 L1364.9 781.0 L1370.0 781.1 L1375.1 781.0 L1380.2 780.5 L1385.3 780.7 L1390.4 779.8 L1395.5 778.4 L1400.6 776.3 L1405.7 773.3 L1410.8 770.7 L1415.9 770.2 L1421.0 769.6 L1426.0 768.1 L1431.1 766.5 L1436.2 764.4 L1441.3 763.3 L1446.4 762.4 L1451.5 760.2 L1456.6 756.5 L1461.7 755.5 L1466.8 758.9 L1471.9 758.4 L1477.0 757.2 L1482.1 756.4 L1487.2 756.7 L1492.3 757.0 L1497.4 753.6 L1502.5 751.5 L1507.6 752.5 L1512.7 753.9 L1517.8 754.9 L1522.9 756.0 L1528.0 757.0 L1533.1 757.4 L1538.2 757.0 L1543.3 755.4 L1548.4 757.2 L1553.4 761.1 L1558.5 765.3 L1563.6 769.1 L1568.7 773.0 L1573.8 776.4 L1578.9 779.0 L1584.0 782.1 L1589.1 784.6 L1594.2 785.8 L1599.3 787.0 L1604.4 789.8 L1609.5 790.1 L1614.6 790.1 L1619.7 790.7 L1624.8 791.0 L1629.9 792.2 L1635.0 793.4 L1640.1 794.3 L1645.2 795.1 L1650.3 795.9 L1655.4 795.9 L1660.5 795.6 L1665.6 796.2 L1670.7 796.1 L1675.8 795.6 L1680.8 795.2 L1685.9 796.2 L1691.0 797.5 L1696.1 797.1 L1701.2 796.1 L1706.3 796.2 L1711.4 796.2 L1716.5 795.1 L1721.6 795.6 L1726.7 796.7 L1731.8 796.7 L1736.9 796.2 L1742.0 794.6 L1747.1 794.3 L1752.2 795.3 L1757.3 795.6 L1762.4 796.2 L1767.5 796.8 L1772.6 796.8 L1777.7 797.5 L1782.8 798.1 L1787.9 799.0 L1793.0 800.0 L1798.1 800.5 L1799.9 799.8 L1809.9 801.0"/>
<path stroke="#00ffff" d="M768.9 797.9 L778.9 797.8 L784.0 797.6 L789.0 797.4 L794.1 797.0 L799.2 796.1 L804.3 795.8 L809.4 796.2 L814.5 796.7 L819.6 796.8 L824.7 797.1 L829.8 797.6 L834.9 797.9 L840.0 797.4 L845.1 796.9 L850.2 797.1 L855.3 797.4 L860.4 798.0 L865.5 797.5 L870.6 796.5 L875.7 795.6 L880.8 795.0 L885.9 794.7 L891.0 794.4 L896.1 793.9 L901.2 792.7 L906.3 792.9 L911.4 794.4 L916.4 794.6 L921.5 792.0 L926.6 788.0 L931.7 785.4 L936.8 783.9 L941.9 783.0 L947.0 781.6 L952.1 778.9 L957.2 775.6 L962.3 771.5 L967.4 767.9 L972.5 765.7 L977.6 762.1 L982.7 758.4 L987.8 755.5 L992.9 751.3 L998.0 747.4 L1003.1 743.5 L1008.2 738.2 L1013.3 733.0 L1018.4 728.5 L1023.5 724.1 L1028.6 717.9 L1033.7 710.2 L1038.8 702.3 L1043.8 693.2 L1048.9 683.5 L1054.0 667.8 L1059.1 656.4 L1064.2 645.1 L1069.3 634.7 L1074.4 624.6 L1079.5 614.9 L1084.6 607.4 L1089.7 604.3 L1094.8 602.9 L1099.9 600.0 L1105.0 595.2 L1110.1 604.8 L1115.2 611.0 L1120.3 614.9 L1125.4 628.0 L1130.5 634.2 L1135.6 640.0 L1140.7 654.6 L1145.8 664.3 L1150.9 676.2 L1156.0 685.9 L1161.1 693.7 L1166.2 701.1 L1171.2 707.8 L1176.3 714.2 L1181.4 718.8 L1186.5 721.9 L1191.6 724.8 L1196.7 729.0 L1201.8 733.7 L1206.9 737.1 L1212.0 737.9 L1217.1 738.8 L1222.2 741.3 L1227.3 743.6 L1232.4 745.1 L1237.5 745.8 L1242.6 747.7 L1247.7 750.5 L1252.8 749.3 L1257.9 749.9 L1263.0 752.3 L1268.1 750.8 L1273.2 750.0 L1278.3 750.5 L1283.4 750.9 L1288.5 752.6 L1293.6 756.3 L1298.6 754.8 L1303.7 751.7 L1308.8 754.6 L1313.9 754.8 L1319.0 754.5 L1324.1 754.2 L1329.2 753.3 L1334.3 753.9 L1339.4 755.2 L1344.5 755.8 L1349.6 755.4 L1354.7 755.2 L1359.8 755.7 L1364.9 757.0 L1370.0 757.0 L1375.1 755.3 L1380.2 755.7 L1385.3 755.5 L1390.4 755.3 L1395.5 754.6 L1400.6 753.8 L1405.7 752.7 L1410.8 750.7 L1415.9 748.6 L1421.0 746.2 L1426.0 743.5 L1431.1 743.2 L1436.2 742.5 L1441.3 739.5 L1446.4 737.9 L1451.5 737.9 L1456.6 735.7 L1461.7 737.4 L1466.8 740.6 L1471.9 740.1 L1477.0 739.1 L1482.1 742.7 L1487.2 744.4 L1492.3 745.3 L1497.4 743.2 L1502.5 742.8 L1507.6 745.3 L1512.7 746.6 L1517.8 751.3 L1522.9 757.2 L1528.0 759.8 L1533.1 762.1 L1538.2 763.3 L1543.3 764.2 L1548.4 766.1 L1553.4 768.0 L1558.5 770.2 L1563.6 772.7 L1568.7 773.6 L1573.8 774.0 L1578.9 775.4 L1584.0 777.1 L1589.1 778.8 L1594.2 779.4 L1599.3 778.6 L1604.4 778.9 L1609.5 781.2 L1614.6 783.1 L1619.7 785.0 L1624.8 787.2 L1629.9 787.8 L1635.0 787.9 L1640.1 788.3 L1645.2 789.1 L1650.3 789.0 L1655.4 788.7 L1660.5 789.7 L1665.6 790.5 L1670.7 791.2 L1675.8 792.5 L1680.8 792.2 L1685.9 790.7 L1691.0 790.9 L1696.1 793.1 L1701.2 794.4 L1706.3 794.0 L1711.4 793.1 L1716.5 793.3 L1721.6 794.2 L1726.7 794.4 L1731.8 794.8 L1736.9 795.8 L1742.0 795.9 L1747.1 795.1 L1752.2 795.3 L1757.3 795.7 L1762.4 796.0 L1767.5 796.3 L1772.6 796.2 L1777.7 796.6 L1782.8 797.5 L1787.9 798.2 L1793.0 798.0 L1798.1 797.3 L1799.9 797.8 L1809.9 797.9"/>
<path stroke="#ff00ff" d="M768.9 798.4 L778.9 798.8 L784.0 798.1 L789.0 798.7 L794.1 798.4 L799.2 798.4 L804.3 799.1 L809.4 799.6 L814.5 799.6 L819.6 799.5 L824.7 799.6 L829.8 799.7 L834.9 799.1 L840.0 798.8 L845.1 800.0 L850.2 801.0 L855.3 799.9 L860.4 798.4 L865.5 799.5 L870.6 801.1 L875.7 800.3 L880.8 799.4 L885.9 800.0 L891.0 800.5 L896.1 800.2 L901.2 799.5 L906.3 798.8 L911.4 798.2 L916.4 798.0 L921.5 797.3 L926.6 795.6 L931.7 795.4 L936.8 797.1 L941.9 797.6 L947.0 796.5 L952.1 795.2 L957.2 793.4 L962.3 790.5 L967.4 787.8 L972.5 785.3 L977.6 781.7 L982.7 776.8 L987.8 771.9 L992.9 766.8 L998.0 759.1 L1003.1 748.2 L1008.2 735.2 L1013.3 719.4 L1018.4 702.4 L1023.5 685.1 L1028.6 668.1 L1033.7 653.6 L1038.8 642.4 L1043.8 610.1 L1048.9 582.2 L1054.0 558.0 L1059.1 532.7 L1064.2 508.6 L1069.3 487.2 L1074.4 465.9 L1079.5 441.4 L1084.6 423.3 L1089.7 411.9 L1094.8 404.4 L1099.9 414.5 L1105.0 414.7 L1110.1 412.7 L1115.2 420.7 L1120.3 435.1 L1125.4 460.7 L1130.5 481.2 L1135.6 497.3 L1140.7 514.3 L1145.8 536.4 L1150.9 559.5 L1156.0 581.3 L1161.1 598.8 L1166.2 610.2 L1171.2 622.5 L1176.3 636.0 L1181.4 646.0 L1186.5 655.5 L1191.6 666.4 L1196.7 675.6 L1201.8 682.7 L1206.9 688.2 L1212.0 692.0 L1217.1 696.6 L1222.2 702.2 L1227.3 705.9 L1232.4 710.2 L1237.5 715.1 L1242.6 718.8 L1247.7 721.8 L1252.8 722.0 L1257.9 721.9 L1263.0 724.6 L1268.1 725.2 L1273.2 724.6 L1278.3 724.6 L1283.4 726.5 L1288.5 727.0 L1293.6 727.7 L1298.6 729.7 L1303.7 730.8 L1308.8 731.6 L1313.9 731.6 L1319.0 731.1 L1324.1 731.3 L1329.2 731.4 L1334.3 732.7 L1339.4 734.0 L1344.5 734.2 L1349.6 734.6 L1354.7 736.6 L1359.8 737.2 L1364.9 735.7 L1370.0 734.4 L1375.1 736.0 L1380.2 738.5 L1385.3 738.6 L1390.4 738.6 L1395.5 739.9 L1400.6 740.0 L1405.7 738.6 L1410.8 737.6 L1415.9 737.8 L1421.0 736.2 L1426.0 733.4 L1431.1 732.2 L1436.2 730.9 L1441.3 729.9 L1446.4 734.5 L1451.5 731.6 L1456.6 723.9 L1461.7 725.5 L1466.8 728.4 L1471.9 729.9 L1477.0 732.3 L1482.1 735.2 L1487.2 737.8 L1492.3 738.9 L1497.4 740.1 L1502.5 743.6 L1507.6 748.8 L1512.7 752.3 L1517.8 753.6 L1522.9 751.4 L1528.0 754.9 L1533.1 758.7 L1538.2 761.3 L1543.3 764.0 L1548.4 766.6 L1553.4 768.5 L1558.5 770.6 L1563.6 774.5 L1568.7 777.3 L1573.8 778.0 L1578.9 779.2 L1584.0 779.4 L1589.1 779.9 L1594.2 782.1 L1599.3 783.8 L1604.4 784.7 L1609.5 785.2 L1614.6 785.8 L1619.7 784.7 L1624.8 784.8 L1629.9 788.7 L1635.0 790.4 L1640.1 790.2 L1645.2 789.9 L1650.3 789.5 L1655.4 789.7 L1660.5 790.9 L1665.6 793.1 L1670.7 794.3 L1675.8 793.2 L1680.8 792.5 L1685.9 792.6 L1691.0 793.7 L1696.1 793.9 L1701.2 793.1 L1706.3 792.6 L1711.4 793.2 L1716.5 794.5 L1721.6 795.6 L1726.7 796.1 L1731.8 795.4 L1736.9 794.6 L1742.0 793.9 L1747.1 793.9 L1752.2 794.5 L1757.3 794.3 L1762.4 794.5 L1767.5 795.2 L1772.6 795.7 L1777.7 796.4 L1782.8 797.0 L1787.9 796.9 L1793.0 796.7 L1798.1 796.8 L1799.9 796.1 L1809.9 796.1"/>
</g></g>
<g id="inset-peaks" font-size="42.6" letter-spacing="3" text-anchor="middle">
<text x="1093.4" y="84">662</text>
<text x="1473.1" y="614.6">735</text>
</g>
<g id="legend">
<text x="1706" y="124.7" font-size="56" font-weight="bold" letter-spacing="1.5">(1)</text>
<path d="M1547.5 175.3 H1691" stroke="#000000" stroke-width="9" stroke-linecap="round" fill="none"/>
<text x="1708.5" y="194.3" font-size="57" letter-spacing="3.5">BSA</text>
<path d="M1547.5 245.5 H1691" stroke="#ff0000" stroke-width="9" stroke-linecap="round" fill="none"/>
<text x="1708.5" y="264.4" font-size="57" letter-spacing="3.5">PVP</text>
<path d="M1547.5 315.6 H1691" stroke="#00ff00" stroke-width="9" stroke-linecap="round" fill="none"/>
<text x="1708.5" y="334.5" font-size="57" letter-spacing="3.5">PSS</text>
<path d="M1547.5 385.8 H1691" stroke="#0000ff" stroke-width="9" stroke-linecap="round" fill="none"/>
<text x="1708.5" y="404.6" font-size="57" letter-spacing="3.5">CMC</text>
<path d="M1547.5 455.9 H1691" stroke="#00ffff" stroke-width="9" stroke-linecap="round" fill="none"/>
<text x="1708.5" y="474.7" font-size="57" letter-spacing="3.5">PEG</text>
<path d="M1547.5 526.0 H1691" stroke="#ff00ff" stroke-width="9" stroke-linecap="round" fill="none"/>
<text x="1708.5" y="544.8" font-size="57" letter-spacing="3.5">H<tspan font-size="33" dy="21.7">2</tspan><tspan dy="-21.7">O</tspan></text>
</g>
</svg></body></html>
